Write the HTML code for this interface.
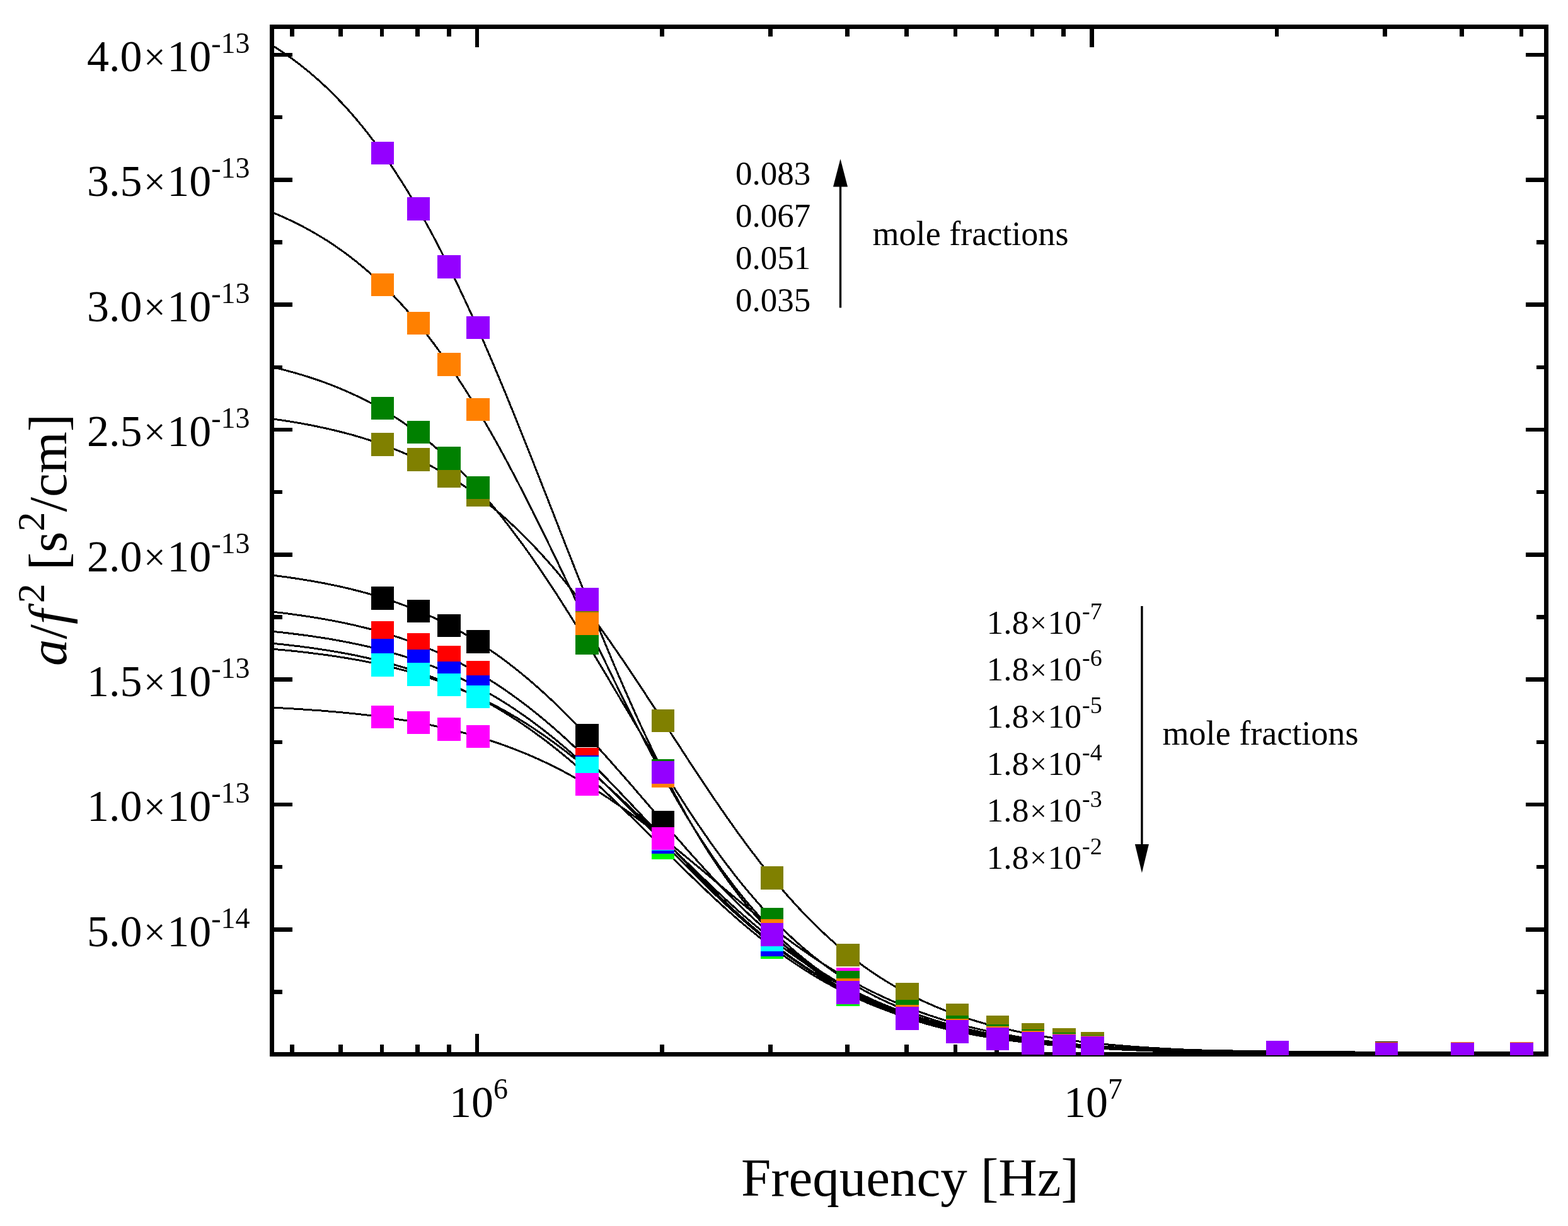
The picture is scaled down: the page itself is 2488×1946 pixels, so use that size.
<!DOCTYPE html><html><head><meta charset="utf-8"><style>html,body{margin:0;padding:0;background:#fff;overflow:hidden;}svg{display:block;}.t{font-family:"Liberation Serif","Times New Roman",serif;}</style></head><body><svg width="2488" height="1946" viewBox="0 0 2488 1946">
<defs><clipPath id="pc"><rect x="435" y="46" width="2015" height="1624"/></clipPath><clipPath id="mc"><rect x="431" y="42" width="2023" height="1633"/></clipPath></defs>
<rect x="0" y="0" width="2488" height="1946" fill="#fff"/>
<g clip-path="url(#pc)" fill="none" stroke="#000" stroke-width="3" stroke-linejoin="round" shape-rendering="crispEdges">
<polyline points="431.5,913.0 434.4,913.4 437.3,913.7 440.2,914.1 443.1,914.5 446.0,914.9 448.9,915.2 451.7,915.6 454.6,916.0 457.5,916.4 460.4,916.8 463.3,917.3 466.2,917.7 469.1,918.1 472.0,918.6 474.9,919.0 477.8,919.5 480.7,919.9 483.6,920.4 486.5,920.9 489.4,921.3 492.2,921.8 495.1,922.3 498.0,922.8 500.9,923.3 503.8,923.9 506.7,924.4 509.6,924.9 512.5,925.5 515.4,926.0 518.3,926.6 521.2,927.2 524.1,927.8 527.0,928.4 529.9,929.0 532.7,929.6 535.6,930.2 538.5,930.8 541.4,931.5 544.3,932.1 547.2,932.8 550.1,933.5 553.0,934.1 555.9,934.8 558.8,935.5 561.7,936.3 564.6,937.0 567.5,937.7 570.3,938.5 573.2,939.2 576.1,940.0 579.0,940.8 581.9,941.6 584.8,942.4 587.7,943.2 590.6,944.0 593.5,944.9 596.4,945.7 599.3,946.6 602.2,947.5 605.1,948.4 608.0,949.3 610.8,950.2 613.7,951.2 616.6,952.1 619.5,953.1 622.4,954.0 625.3,955.0 628.2,956.0 631.1,957.1 634.0,958.1 636.9,959.2 639.8,960.2 642.7,961.3 645.6,962.4 648.5,963.5 651.3,964.6 654.2,965.8 657.1,967.0 660.0,968.1 662.9,969.3 665.8,970.5 668.7,971.8 671.6,973.0 674.5,974.3 677.4,975.6 680.3,976.8 683.2,978.2 686.1,979.5 689.0,980.8 691.8,982.2 694.7,983.6 697.6,985.0 700.5,986.4 703.4,987.9 706.3,989.3 709.2,990.8 712.1,992.3 715.0,993.8 717.9,995.4 720.8,996.9 723.7,998.5 726.6,1000.1 729.4,1001.7 732.3,1003.4 735.2,1005.0 738.1,1006.7 741.0,1008.4 743.9,1010.1 746.8,1011.9 749.7,1013.6 752.6,1015.4 755.5,1017.2 758.4,1019.0 761.3,1020.9 764.2,1022.7 767.1,1024.6 769.9,1026.5 772.8,1028.5 775.7,1030.4 778.6,1032.4 781.5,1034.4 784.4,1036.4 787.3,1038.5 790.2,1040.5 793.1,1042.6 796.0,1044.7 798.9,1046.9 801.8,1049.0 804.7,1051.2 807.6,1053.4 810.4,1055.6 813.3,1057.9 816.2,1060.1 819.1,1062.4 822.0,1064.7 824.9,1067.1 827.8,1069.4 830.7,1071.8 833.6,1074.2 836.5,1076.6 839.4,1079.1 842.3,1081.5 845.2,1084.0 848.0,1086.5 850.9,1089.1 853.8,1091.6 856.7,1094.2 859.6,1096.8 862.5,1099.4 865.4,1102.1 868.3,1104.7 871.2,1107.4 874.1,1110.1 877.0,1112.8 879.9,1115.6 882.8,1118.3 885.7,1121.1 888.5,1123.9 891.4,1126.8 894.3,1129.6 897.2,1132.5 900.1,1135.3 903.0,1138.2 905.9,1141.2 908.8,1144.1 911.7,1147.1 914.6,1150.0 917.5,1153.0 920.4,1156.0 923.3,1159.1 926.2,1162.1 929.0,1165.2 931.9,1168.2 934.8,1171.3 937.7,1174.4 940.6,1177.5 943.5,1180.7 946.4,1183.8 949.3,1187.0 952.2,1190.2 955.1,1193.3 958.0,1196.5 960.9,1199.8 963.8,1203.0 966.7,1206.2 969.5,1209.5 972.4,1212.7 975.3,1216.0 978.2,1219.3 981.1,1222.5 984.0,1225.8 986.9,1229.1 989.8,1232.4 992.7,1235.8 995.6,1239.1 998.5,1242.4 1001.4,1245.8 1004.3,1249.1 1007.1,1252.4 1010.0,1255.8 1012.9,1259.1 1015.8,1262.5 1018.7,1265.9 1021.6,1269.2 1024.5,1272.6 1027.4,1276.0 1030.3,1279.3 1033.2,1282.7 1036.1,1286.1 1039.0,1289.4 1041.9,1292.8 1044.8,1296.2 1047.6,1299.5 1050.5,1302.9 1053.4,1306.2 1056.3,1309.6 1059.2,1312.9 1062.1,1316.3 1065.0,1319.6 1067.9,1323.0 1070.8,1326.3 1073.7,1329.6 1076.6,1332.9 1079.5,1336.2 1082.4,1339.5 1085.3,1342.8 1088.1,1346.1 1091.0,1349.4 1093.9,1352.6 1096.8,1355.9 1099.7,1359.1 1102.6,1362.3 1105.5,1365.6 1108.4,1368.8 1111.3,1372.0 1114.2,1375.1 1117.1,1378.3 1120.0,1381.5 1122.9,1384.6 1125.7,1387.7 1128.6,1390.8 1131.5,1393.9 1134.4,1397.0 1137.3,1400.1 1140.2,1403.1 1143.1,1406.2 1146.0,1409.2 1148.9,1412.2 1151.8,1415.2 1154.7,1418.1 1157.6,1421.1 1160.5,1424.0 1163.4,1426.9 1166.2,1429.8 1169.1,1432.7 1172.0,1435.5 1174.9,1438.4 1177.8,1441.2 1180.7,1444.0 1183.6,1446.8 1186.5,1449.5 1189.4,1452.3 1192.3,1455.0 1195.2,1457.7 1198.1,1460.3 1201.0,1463.0 1203.9,1465.6 1206.7,1468.2 1209.6,1470.8 1212.5,1473.4 1215.4,1475.9 1218.3,1478.4 1221.2,1480.9 1224.1,1483.4 1227.0,1485.9 1229.9,1488.3 1232.8,1490.7 1235.7,1493.1 1238.6,1495.5 1241.5,1497.8 1244.3,1500.2 1247.2,1502.5 1250.1,1504.7 1253.0,1507.0 1255.9,1509.2 1258.8,1511.4 1261.7,1513.6 1264.6,1515.8 1267.5,1517.9 1270.4,1520.1 1273.3,1522.2 1276.2,1524.2 1279.1,1526.3 1282.0,1528.3 1284.8,1530.3 1287.7,1532.3 1290.6,1534.3 1293.5,1536.2 1296.4,1538.2 1299.3,1540.1 1302.2,1541.9 1305.1,1543.8 1308.0,1545.6 1310.9,1547.4 1313.8,1549.2 1316.7,1551.0 1319.6,1552.8 1322.5,1554.5 1325.3,1556.2 1328.2,1557.9 1331.1,1559.6 1334.0,1561.2 1336.9,1562.8 1339.8,1564.5 1342.7,1566.0 1345.6,1567.6 1348.5,1569.2 1351.4,1570.7 1354.3,1572.2 1357.2,1573.7 1360.1,1575.2 1363.0,1576.6 1365.8,1578.0 1368.7,1579.5 1371.6,1580.9 1374.5,1582.2 1377.4,1583.6 1380.3,1584.9 1383.2,1586.3 1386.1,1587.6 1389.0,1588.9 1391.9,1590.1 1394.8,1591.4 1397.7,1592.6 1400.6,1593.8 1403.4,1595.0 1406.3,1596.2 1409.2,1597.4 1412.1,1598.5 1415.0,1599.7 1417.9,1600.8 1420.8,1601.9 1423.7,1603.0 1426.6,1604.1 1429.5,1605.1 1432.4,1606.2 1435.3,1607.2 1438.2,1608.2 1441.1,1609.2 1443.9,1610.2 1446.8,1611.2 1449.7,1612.1 1452.6,1613.1 1455.5,1614.0 1458.4,1614.9 1461.3,1615.8 1464.2,1616.7 1467.1,1617.6 1470.0,1618.5 1472.9,1619.3 1475.8,1620.2 1478.7,1621.0 1481.6,1621.8 1484.4,1622.6 1487.3,1623.4 1490.2,1624.2 1493.1,1624.9 1496.0,1625.7 1498.9,1626.4 1501.8,1627.2 1504.7,1627.9 1507.6,1628.6 1510.5,1629.3 1513.4,1630.0 1516.3,1630.7 1519.2,1631.3 1522.0,1632.0 1524.9,1632.6 1527.8,1633.3 1530.7,1633.9 1533.6,1634.5 1536.5,1635.1 1539.4,1635.7 1542.3,1636.3 1545.2,1636.9 1548.1,1637.4 1551.0,1638.0 1553.9,1638.6 1556.8,1639.1 1559.7,1639.6 1562.5,1640.2 1565.4,1640.7 1568.3,1641.2 1571.2,1641.7 1574.1,1642.2 1577.0,1642.7 1579.9,1643.2 1582.8,1643.6 1585.7,1644.1 1588.6,1644.6 1591.5,1645.0 1594.4,1645.5 1597.3,1645.9 1600.2,1646.3 1603.0,1646.7 1605.9,1647.1 1608.8,1647.6 1611.7,1648.0 1614.6,1648.4 1617.5,1648.7 1620.4,1649.1 1623.3,1649.5 1626.2,1649.9 1629.1,1650.2 1632.0,1650.6 1634.9,1650.9 1637.8,1651.3 1640.7,1651.6 1643.5,1652.0 1646.4,1652.3 1649.3,1652.6 1652.2,1652.9 1655.1,1653.3 1658.0,1653.6 1660.9,1653.9 1663.8,1654.2 1666.7,1654.5 1669.6,1654.8 1672.5,1655.0 1675.4,1655.3 1678.3,1655.6 1681.1,1655.9 1684.0,1656.1 1686.9,1656.4 1689.8,1656.6 1692.7,1656.9 1695.6,1657.2 1698.5,1657.4 1701.4,1657.6 1704.3,1657.9 1707.2,1658.1 1710.1,1658.3 1713.0,1658.6 1715.9,1658.8 1718.8,1659.0 1721.6,1659.2 1724.5,1659.4 1727.4,1659.6 1730.3,1659.8 1733.2,1660.0 1736.1,1660.2 1739.0,1660.4 1741.9,1660.6 1744.8,1660.8 1747.7,1661.0 1750.6,1661.2 1753.5,1661.4 1756.4,1661.5 1759.3,1661.7 1762.1,1661.9 1765.0,1662.0 1767.9,1662.2 1770.8,1662.4 1773.7,1662.5 1776.6,1662.7 1779.5,1662.8 1782.4,1663.0 1785.3,1663.1 1788.2,1663.3 1791.1,1663.4 1794.0,1663.6 1796.9,1663.7 1799.7,1663.8 1802.6,1664.0 1805.5,1664.1 1808.4,1664.2 1811.3,1664.4 1814.2,1664.5 1817.1,1664.6 1820.0,1664.7 1822.9,1664.8 1825.8,1665.0 1828.7,1665.1 1831.6,1665.2 1834.5,1665.3 1837.4,1665.4 1840.2,1665.5 1843.1,1665.6 1846.0,1665.7 1848.9,1665.8 1851.8,1665.9 1854.7,1666.0 1857.6,1666.1 1860.5,1666.2 1863.4,1666.3 1866.3,1666.4 1869.2,1666.5 1872.1,1666.6 1875.0,1666.7 1877.9,1666.8 1880.7,1666.8 1883.6,1666.9 1886.5,1667.0 1889.4,1667.1 1892.3,1667.2 1895.2,1667.2 1898.1,1667.3 1901.0,1667.4 1903.9,1667.5 1906.8,1667.5 1909.7,1667.6 1912.6,1667.7 1915.5,1667.8 1918.3,1667.8 1921.2,1667.9 1924.1,1668.0 1927.0,1668.0 1929.9,1668.1 1932.8,1668.1 1935.7,1668.2 1938.6,1668.3 1941.5,1668.3 1944.4,1668.4 1947.3,1668.4 1950.2,1668.5 1953.1,1668.6 1956.0,1668.6 1958.8,1668.7 1961.7,1668.7 1964.6,1668.8 1967.5,1668.8 1970.4,1668.9 1973.3,1668.9 1976.2,1669.0 1979.1,1669.0 1982.0,1669.1 1984.9,1669.1 1987.8,1669.1 1990.7,1669.2 1993.6,1669.2 1996.5,1669.3 1999.3,1669.3 2002.2,1669.4 2005.1,1669.4 2008.0,1669.4 2010.9,1669.5 2013.8,1669.5 2016.7,1669.6 2019.6,1669.6 2022.5,1669.6 2025.4,1669.7 2028.3,1669.7 2031.2,1669.7 2034.1,1669.8 2037.0,1669.8 2039.8,1669.8 2042.7,1669.9 2045.6,1669.9 2048.5,1669.9 2051.4,1670.0 2054.3,1670.0 2057.2,1670.0 2060.1,1670.0 2063.0,1670.1 2065.9,1670.1 2068.8,1670.1 2071.7,1670.2 2074.6,1670.2 2077.4,1670.2 2080.3,1670.2 2083.2,1670.3 2086.1,1670.3 2089.0,1670.3 2091.9,1670.3 2094.8,1670.4 2097.7,1670.4 2100.6,1670.4 2103.5,1670.4 2106.4,1670.5 2109.3,1670.5 2112.2,1670.5 2115.1,1670.5 2117.9,1670.5 2120.8,1670.6 2123.7,1670.6 2126.6,1670.6 2129.5,1670.6 2132.4,1670.6 2135.3,1670.7 2138.2,1670.7 2141.1,1670.7 2144.0,1670.7 2146.9,1670.7 2149.8,1670.7 2152.7,1670.8 2155.6,1670.8 2158.4,1670.8 2161.3,1670.8 2164.2,1670.8 2167.1,1670.8 2170.0,1670.9 2172.9,1670.9 2175.8,1670.9 2178.7,1670.9 2181.6,1670.9 2184.5,1670.9 2187.4,1670.9 2190.3,1671.0 2193.2,1671.0 2196.0,1671.0 2198.9,1671.0 2201.8,1671.0 2204.7,1671.0 2207.6,1671.0 2210.5,1671.0 2213.4,1671.1 2216.3,1671.1 2219.2,1671.1 2222.1,1671.1 2225.0,1671.1 2227.9,1671.1 2230.8,1671.1 2233.7,1671.1 2236.5,1671.1 2239.4,1671.2 2242.3,1671.2 2245.2,1671.2 2248.1,1671.2 2251.0,1671.2 2253.9,1671.2 2256.8,1671.2 2259.7,1671.2 2262.6,1671.2 2265.5,1671.2 2268.4,1671.2 2271.3,1671.3 2274.2,1671.3 2277.0,1671.3 2279.9,1671.3 2282.8,1671.3 2285.7,1671.3 2288.6,1671.3 2291.5,1671.3 2294.4,1671.3 2297.3,1671.3 2300.2,1671.3 2303.1,1671.3 2306.0,1671.3 2308.9,1671.3 2311.8,1671.4 2314.7,1671.4 2317.5,1671.4 2320.4,1671.4 2323.3,1671.4 2326.2,1671.4 2329.1,1671.4 2332.0,1671.4 2334.9,1671.4 2337.8,1671.4 2340.7,1671.4 2343.6,1671.4 2346.5,1671.4 2349.4,1671.4 2352.3,1671.4 2355.1,1671.4 2358.0,1671.4 2360.9,1671.5 2363.8,1671.5 2366.7,1671.5 2369.6,1671.5 2372.5,1671.5 2375.4,1671.5 2378.3,1671.5 2381.2,1671.5 2384.1,1671.5 2387.0,1671.5 2389.9,1671.5 2392.8,1671.5 2395.6,1671.5 2398.5,1671.5 2401.4,1671.5 2404.3,1671.5 2407.2,1671.5 2410.1,1671.5 2413.0,1671.5 2415.9,1671.5 2418.8,1671.5 2421.7,1671.5 2424.6,1671.5 2427.5,1671.5 2430.4,1671.5 2433.3,1671.5 2436.1,1671.6 2439.0,1671.6 2441.9,1671.6 2444.8,1671.6 2447.7,1671.6 2450.6,1671.6 2453.5,1671.6"/>
<polyline points="431.5,971.0 434.4,971.3 437.3,971.7 440.2,972.0 443.1,972.3 446.0,972.7 448.9,973.0 451.7,973.4 454.6,973.8 457.5,974.1 460.4,974.5 463.3,974.9 466.2,975.3 469.1,975.7 472.0,976.1 474.9,976.5 477.8,976.9 480.7,977.3 483.6,977.7 486.5,978.2 489.4,978.6 492.2,979.1 495.1,979.5 498.0,980.0 500.9,980.5 503.8,980.9 506.7,981.4 509.6,981.9 512.5,982.4 515.4,982.9 518.3,983.4 521.2,984.0 524.1,984.5 527.0,985.0 529.9,985.6 532.7,986.1 535.6,986.7 538.5,987.3 541.4,987.9 544.3,988.5 547.2,989.1 550.1,989.7 553.0,990.3 555.9,991.0 558.8,991.6 561.7,992.2 564.6,992.9 567.5,993.6 570.3,994.3 573.2,995.0 576.1,995.7 579.0,996.4 581.9,997.1 584.8,997.8 587.7,998.6 590.6,999.4 593.5,1000.1 596.4,1000.9 599.3,1001.7 602.2,1002.5 605.1,1003.3 608.0,1004.2 610.8,1005.0 613.7,1005.9 616.6,1006.7 619.5,1007.6 622.4,1008.5 625.3,1009.4 628.2,1010.3 631.1,1011.3 634.0,1012.2 636.9,1013.2 639.8,1014.2 642.7,1015.2 645.6,1016.2 648.5,1017.2 651.3,1018.2 654.2,1019.3 657.1,1020.3 660.0,1021.4 662.9,1022.5 665.8,1023.6 668.7,1024.7 671.6,1025.9 674.5,1027.0 677.4,1028.2 680.3,1029.4 683.2,1030.6 686.1,1031.8 689.0,1033.0 691.8,1034.3 694.7,1035.6 697.6,1036.8 700.5,1038.1 703.4,1039.5 706.3,1040.8 709.2,1042.2 712.1,1043.5 715.0,1044.9 717.9,1046.3 720.8,1047.8 723.7,1049.2 726.6,1050.7 729.4,1052.1 732.3,1053.6 735.2,1055.2 738.1,1056.7 741.0,1058.3 743.9,1059.8 746.8,1061.4 749.7,1063.0 752.6,1064.7 755.5,1066.3 758.4,1068.0 761.3,1069.7 764.2,1071.4 767.1,1073.1 769.9,1074.9 772.8,1076.7 775.7,1078.5 778.6,1080.3 781.5,1082.1 784.4,1083.9 787.3,1085.8 790.2,1087.7 793.1,1089.6 796.0,1091.6 798.9,1093.5 801.8,1095.5 804.7,1097.5 807.6,1099.5 810.4,1101.5 813.3,1103.6 816.2,1105.7 819.1,1107.8 822.0,1109.9 824.9,1112.0 827.8,1114.2 830.7,1116.4 833.6,1118.6 836.5,1120.8 839.4,1123.0 842.3,1125.3 845.2,1127.6 848.0,1129.9 850.9,1132.2 853.8,1134.6 856.7,1136.9 859.6,1139.3 862.5,1141.7 865.4,1144.1 868.3,1146.6 871.2,1149.1 874.1,1151.5 877.0,1154.0 879.9,1156.6 882.8,1159.1 885.7,1161.7 888.5,1164.2 891.4,1166.8 894.3,1169.4 897.2,1172.1 900.1,1174.7 903.0,1177.4 905.9,1180.1 908.8,1182.8 911.7,1185.5 914.6,1188.2 917.5,1191.0 920.4,1193.7 923.3,1196.5 926.2,1199.3 929.0,1202.1 931.9,1204.9 934.8,1207.8 937.7,1210.6 940.6,1213.5 943.5,1216.4 946.4,1219.3 949.3,1222.2 952.2,1225.1 955.1,1228.0 958.0,1231.0 960.9,1233.9 963.8,1236.9 966.7,1239.9 969.5,1242.9 972.4,1245.9 975.3,1248.9 978.2,1251.9 981.1,1254.9 984.0,1257.9 986.9,1261.0 989.8,1264.0 992.7,1267.1 995.6,1270.2 998.5,1273.2 1001.4,1276.3 1004.3,1279.4 1007.1,1282.5 1010.0,1285.5 1012.9,1288.6 1015.8,1291.7 1018.7,1294.8 1021.6,1297.9 1024.5,1301.0 1027.4,1304.1 1030.3,1307.2 1033.2,1310.3 1036.1,1313.4 1039.0,1316.6 1041.9,1319.7 1044.8,1322.8 1047.6,1325.9 1050.5,1329.0 1053.4,1332.1 1056.3,1335.2 1059.2,1338.2 1062.1,1341.3 1065.0,1344.4 1067.9,1347.5 1070.8,1350.6 1073.7,1353.6 1076.6,1356.7 1079.5,1359.7 1082.4,1362.8 1085.3,1365.8 1088.1,1368.9 1091.0,1371.9 1093.9,1374.9 1096.8,1377.9 1099.7,1380.9 1102.6,1383.9 1105.5,1386.8 1108.4,1389.8 1111.3,1392.8 1114.2,1395.7 1117.1,1398.6 1120.0,1401.5 1122.9,1404.4 1125.7,1407.3 1128.6,1410.2 1131.5,1413.1 1134.4,1415.9 1137.3,1418.8 1140.2,1421.6 1143.1,1424.4 1146.0,1427.2 1148.9,1430.0 1151.8,1432.7 1154.7,1435.5 1157.6,1438.2 1160.5,1440.9 1163.4,1443.6 1166.2,1446.3 1169.1,1448.9 1172.0,1451.6 1174.9,1454.2 1177.8,1456.8 1180.7,1459.4 1183.6,1462.0 1186.5,1464.5 1189.4,1467.0 1192.3,1469.6 1195.2,1472.1 1198.1,1474.5 1201.0,1477.0 1203.9,1479.4 1206.7,1481.8 1209.6,1484.2 1212.5,1486.6 1215.4,1489.0 1218.3,1491.3 1221.2,1493.6 1224.1,1495.9 1227.0,1498.2 1229.9,1500.5 1232.8,1502.7 1235.7,1504.9 1238.6,1507.1 1241.5,1509.3 1244.3,1511.4 1247.2,1513.6 1250.1,1515.7 1253.0,1517.8 1255.9,1519.8 1258.8,1521.9 1261.7,1523.9 1264.6,1525.9 1267.5,1527.9 1270.4,1529.9 1273.3,1531.8 1276.2,1533.8 1279.1,1535.7 1282.0,1537.6 1284.8,1539.4 1287.7,1541.3 1290.6,1543.1 1293.5,1544.9 1296.4,1546.7 1299.3,1548.5 1302.2,1550.2 1305.1,1551.9 1308.0,1553.6 1310.9,1555.3 1313.8,1557.0 1316.7,1558.6 1319.6,1560.3 1322.5,1561.9 1325.3,1563.4 1328.2,1565.0 1331.1,1566.6 1334.0,1568.1 1336.9,1569.6 1339.8,1571.1 1342.7,1572.6 1345.6,1574.0 1348.5,1575.5 1351.4,1576.9 1354.3,1578.3 1357.2,1579.7 1360.1,1581.0 1363.0,1582.4 1365.8,1583.7 1368.7,1585.0 1371.6,1586.3 1374.5,1587.6 1377.4,1588.9 1380.3,1590.1 1383.2,1591.4 1386.1,1592.6 1389.0,1593.8 1391.9,1595.0 1394.8,1596.1 1397.7,1597.3 1400.6,1598.4 1403.4,1599.5 1406.3,1600.6 1409.2,1601.7 1412.1,1602.8 1415.0,1603.8 1417.9,1604.9 1420.8,1605.9 1423.7,1606.9 1426.6,1607.9 1429.5,1608.9 1432.4,1609.9 1435.3,1610.8 1438.2,1611.8 1441.1,1612.7 1443.9,1613.6 1446.8,1614.5 1449.7,1615.4 1452.6,1616.3 1455.5,1617.2 1458.4,1618.0 1461.3,1618.9 1464.2,1619.7 1467.1,1620.5 1470.0,1621.3 1472.9,1622.1 1475.8,1622.9 1478.7,1623.6 1481.6,1624.4 1484.4,1625.1 1487.3,1625.9 1490.2,1626.6 1493.1,1627.3 1496.0,1628.0 1498.9,1628.7 1501.8,1629.4 1504.7,1630.1 1507.6,1630.7 1510.5,1631.4 1513.4,1632.0 1516.3,1632.6 1519.2,1633.3 1522.0,1633.9 1524.9,1634.5 1527.8,1635.1 1530.7,1635.6 1533.6,1636.2 1536.5,1636.8 1539.4,1637.3 1542.3,1637.9 1545.2,1638.4 1548.1,1639.0 1551.0,1639.5 1553.9,1640.0 1556.8,1640.5 1559.7,1641.0 1562.5,1641.5 1565.4,1642.0 1568.3,1642.5 1571.2,1642.9 1574.1,1643.4 1577.0,1643.8 1579.9,1644.3 1582.8,1644.7 1585.7,1645.2 1588.6,1645.6 1591.5,1646.0 1594.4,1646.4 1597.3,1646.8 1600.2,1647.2 1603.0,1647.6 1605.9,1648.0 1608.8,1648.4 1611.7,1648.7 1614.6,1649.1 1617.5,1649.5 1620.4,1649.8 1623.3,1650.2 1626.2,1650.5 1629.1,1650.9 1632.0,1651.2 1634.9,1651.5 1637.8,1651.8 1640.7,1652.2 1643.5,1652.5 1646.4,1652.8 1649.3,1653.1 1652.2,1653.4 1655.1,1653.7 1658.0,1654.0 1660.9,1654.2 1663.8,1654.5 1666.7,1654.8 1669.6,1655.1 1672.5,1655.3 1675.4,1655.6 1678.3,1655.8 1681.1,1656.1 1684.0,1656.3 1686.9,1656.6 1689.8,1656.8 1692.7,1657.1 1695.6,1657.3 1698.5,1657.5 1701.4,1657.8 1704.3,1658.0 1707.2,1658.2 1710.1,1658.4 1713.0,1658.6 1715.9,1658.8 1718.8,1659.0 1721.6,1659.2 1724.5,1659.4 1727.4,1659.6 1730.3,1659.8 1733.2,1660.0 1736.1,1660.2 1739.0,1660.4 1741.9,1660.5 1744.8,1660.7 1747.7,1660.9 1750.6,1661.0 1753.5,1661.2 1756.4,1661.4 1759.3,1661.5 1762.1,1661.7 1765.0,1661.9 1767.9,1662.0 1770.8,1662.2 1773.7,1662.3 1776.6,1662.4 1779.5,1662.6 1782.4,1662.7 1785.3,1662.9 1788.2,1663.0 1791.1,1663.1 1794.0,1663.3 1796.9,1663.4 1799.7,1663.5 1802.6,1663.6 1805.5,1663.8 1808.4,1663.9 1811.3,1664.0 1814.2,1664.1 1817.1,1664.2 1820.0,1664.4 1822.9,1664.5 1825.8,1664.6 1828.7,1664.7 1831.6,1664.8 1834.5,1664.9 1837.4,1665.0 1840.2,1665.1 1843.1,1665.2 1846.0,1665.3 1848.9,1665.4 1851.8,1665.5 1854.7,1665.6 1857.6,1665.7 1860.5,1665.7 1863.4,1665.8 1866.3,1665.9 1869.2,1666.0 1872.1,1666.1 1875.0,1666.2 1877.9,1666.2 1880.7,1666.3 1883.6,1666.4 1886.5,1666.5 1889.4,1666.6 1892.3,1666.6 1895.2,1666.7 1898.1,1666.8 1901.0,1666.8 1903.9,1666.9 1906.8,1667.0 1909.7,1667.0 1912.6,1667.1 1915.5,1667.2 1918.3,1667.2 1921.2,1667.3 1924.1,1667.4 1927.0,1667.4 1929.9,1667.5 1932.8,1667.5 1935.7,1667.6 1938.6,1667.6 1941.5,1667.7 1944.4,1667.8 1947.3,1667.8 1950.2,1667.9 1953.1,1667.9 1956.0,1668.0 1958.8,1668.0 1961.7,1668.1 1964.6,1668.1 1967.5,1668.2 1970.4,1668.2 1973.3,1668.3 1976.2,1668.3 1979.1,1668.3 1982.0,1668.4 1984.9,1668.4 1987.8,1668.5 1990.7,1668.5 1993.6,1668.5 1996.5,1668.6 1999.3,1668.6 2002.2,1668.7 2005.1,1668.7 2008.0,1668.7 2010.9,1668.8 2013.8,1668.8 2016.7,1668.8 2019.6,1668.9 2022.5,1668.9 2025.4,1669.0 2028.3,1669.0 2031.2,1669.0 2034.1,1669.0 2037.0,1669.1 2039.8,1669.1 2042.7,1669.1 2045.6,1669.2 2048.5,1669.2 2051.4,1669.2 2054.3,1669.3 2057.2,1669.3 2060.1,1669.3 2063.0,1669.3 2065.9,1669.4 2068.8,1669.4 2071.7,1669.4 2074.6,1669.4 2077.4,1669.5 2080.3,1669.5 2083.2,1669.5 2086.1,1669.5 2089.0,1669.6 2091.9,1669.6 2094.8,1669.6 2097.7,1669.6 2100.6,1669.6 2103.5,1669.7 2106.4,1669.7 2109.3,1669.7 2112.2,1669.7 2115.1,1669.7 2117.9,1669.8 2120.8,1669.8 2123.7,1669.8 2126.6,1669.8 2129.5,1669.8 2132.4,1669.9 2135.3,1669.9 2138.2,1669.9 2141.1,1669.9 2144.0,1669.9 2146.9,1669.9 2149.8,1670.0 2152.7,1670.0 2155.6,1670.0 2158.4,1670.0 2161.3,1670.0 2164.2,1670.0 2167.1,1670.0 2170.0,1670.1 2172.9,1670.1 2175.8,1670.1 2178.7,1670.1 2181.6,1670.1 2184.5,1670.1 2187.4,1670.1 2190.3,1670.2 2193.2,1670.2 2196.0,1670.2 2198.9,1670.2 2201.8,1670.2 2204.7,1670.2 2207.6,1670.2 2210.5,1670.2 2213.4,1670.2 2216.3,1670.3 2219.2,1670.3 2222.1,1670.3 2225.0,1670.3 2227.9,1670.3 2230.8,1670.3 2233.7,1670.3 2236.5,1670.3 2239.4,1670.3 2242.3,1670.3 2245.2,1670.4 2248.1,1670.4 2251.0,1670.4 2253.9,1670.4 2256.8,1670.4 2259.7,1670.4 2262.6,1670.4 2265.5,1670.4 2268.4,1670.4 2271.3,1670.4 2274.2,1670.4 2277.0,1670.4 2279.9,1670.5 2282.8,1670.5 2285.7,1670.5 2288.6,1670.5 2291.5,1670.5 2294.4,1670.5 2297.3,1670.5 2300.2,1670.5 2303.1,1670.5 2306.0,1670.5 2308.9,1670.5 2311.8,1670.5 2314.7,1670.5 2317.5,1670.5 2320.4,1670.5 2323.3,1670.6 2326.2,1670.6 2329.1,1670.6 2332.0,1670.6 2334.9,1670.6 2337.8,1670.6 2340.7,1670.6 2343.6,1670.6 2346.5,1670.6 2349.4,1670.6 2352.3,1670.6 2355.1,1670.6 2358.0,1670.6 2360.9,1670.6 2363.8,1670.6 2366.7,1670.6 2369.6,1670.6 2372.5,1670.6 2375.4,1670.6 2378.3,1670.6 2381.2,1670.6 2384.1,1670.6 2387.0,1670.7 2389.9,1670.7 2392.8,1670.7 2395.6,1670.7 2398.5,1670.7 2401.4,1670.7 2404.3,1670.7 2407.2,1670.7 2410.1,1670.7 2413.0,1670.7 2415.9,1670.7 2418.8,1670.7 2421.7,1670.7 2424.6,1670.7 2427.5,1670.7 2430.4,1670.7 2433.3,1670.7 2436.1,1670.7 2439.0,1670.7 2441.9,1670.7 2444.8,1670.7 2447.7,1670.7 2450.6,1670.7 2453.5,1670.7"/>
<polyline points="431.5,1021.1 434.4,1021.4 437.3,1021.7 440.2,1022.0 443.1,1022.3 446.0,1022.6 448.9,1022.9 451.7,1023.2 454.6,1023.6 457.5,1023.9 460.4,1024.2 463.3,1024.5 466.2,1024.9 469.1,1025.2 472.0,1025.6 474.9,1025.9 477.8,1026.3 480.7,1026.7 483.6,1027.1 486.5,1027.4 489.4,1027.8 492.2,1028.2 495.1,1028.6 498.0,1029.0 500.9,1029.4 503.8,1029.9 506.7,1030.3 509.6,1030.7 512.5,1031.2 515.4,1031.6 518.3,1032.1 521.2,1032.5 524.1,1033.0 527.0,1033.5 529.9,1034.0 532.7,1034.5 535.6,1035.0 538.5,1035.5 541.4,1036.0 544.3,1036.5 547.2,1037.1 550.1,1037.6 553.0,1038.1 555.9,1038.7 558.8,1039.3 561.7,1039.8 564.6,1040.4 567.5,1041.0 570.3,1041.6 573.2,1042.2 576.1,1042.9 579.0,1043.5 581.9,1044.1 584.8,1044.8 587.7,1045.5 590.6,1046.1 593.5,1046.8 596.4,1047.5 599.3,1048.2 602.2,1048.9 605.1,1049.6 608.0,1050.4 610.8,1051.1 613.7,1051.9 616.6,1052.7 619.5,1053.4 622.4,1054.2 625.3,1055.0 628.2,1055.8 631.1,1056.7 634.0,1057.5 636.9,1058.4 639.8,1059.2 642.7,1060.1 645.6,1061.0 648.5,1061.9 651.3,1062.8 654.2,1063.7 657.1,1064.7 660.0,1065.6 662.9,1066.6 665.8,1067.6 668.7,1068.6 671.6,1069.6 674.5,1070.6 677.4,1071.7 680.3,1072.7 683.2,1073.8 686.1,1074.9 689.0,1076.0 691.8,1077.1 694.7,1078.2 697.6,1079.3 700.5,1080.5 703.4,1081.7 706.3,1082.9 709.2,1084.1 712.1,1085.3 715.0,1086.5 717.9,1087.8 720.8,1089.0 723.7,1090.3 726.6,1091.6 729.4,1093.0 732.3,1094.3 735.2,1095.6 738.1,1097.0 741.0,1098.4 743.9,1099.8 746.8,1101.2 749.7,1102.7 752.6,1104.1 755.5,1105.6 758.4,1107.1 761.3,1108.6 764.2,1110.1 767.1,1111.7 769.9,1113.3 772.8,1114.8 775.7,1116.4 778.6,1118.1 781.5,1119.7 784.4,1121.4 787.3,1123.0 790.2,1124.7 793.1,1126.4 796.0,1128.2 798.9,1129.9 801.8,1131.7 804.7,1133.5 807.6,1135.3 810.4,1137.1 813.3,1139.0 816.2,1140.8 819.1,1142.7 822.0,1144.6 824.9,1146.6 827.8,1148.5 830.7,1150.5 833.6,1152.5 836.5,1154.5 839.4,1156.5 842.3,1158.5 845.2,1160.6 848.0,1162.7 850.9,1164.7 853.8,1166.9 856.7,1169.0 859.6,1171.1 862.5,1173.3 865.4,1175.5 868.3,1177.7 871.2,1179.9 874.1,1182.2 877.0,1184.5 879.9,1186.7 882.8,1189.0 885.7,1191.4 888.5,1193.7 891.4,1196.0 894.3,1198.4 897.2,1200.8 900.1,1203.2 903.0,1205.6 905.9,1208.1 908.8,1210.5 911.7,1213.0 914.6,1215.5 917.5,1218.0 920.4,1220.5 923.3,1223.0 926.2,1225.6 929.0,1228.2 931.9,1230.7 934.8,1233.3 937.7,1235.9 940.6,1238.6 943.5,1241.2 946.4,1243.8 949.3,1246.5 952.2,1249.2 955.1,1251.9 958.0,1254.6 960.9,1257.3 963.8,1260.0 966.7,1262.7 969.5,1265.5 972.4,1268.2 975.3,1271.0 978.2,1273.7 981.1,1276.5 984.0,1279.3 986.9,1282.1 989.8,1284.9 992.7,1287.7 995.6,1290.6 998.5,1293.4 1001.4,1296.2 1004.3,1299.1 1007.1,1301.9 1010.0,1304.8 1012.9,1307.6 1015.8,1310.5 1018.7,1313.4 1021.6,1316.2 1024.5,1319.1 1027.4,1322.0 1030.3,1324.9 1033.2,1327.8 1036.1,1330.6 1039.0,1333.5 1041.9,1336.4 1044.8,1339.3 1047.6,1342.2 1050.5,1345.1 1053.4,1347.9 1056.3,1350.8 1059.2,1353.7 1062.1,1356.6 1065.0,1359.5 1067.9,1362.3 1070.8,1365.2 1073.7,1368.1 1076.6,1370.9 1079.5,1373.8 1082.4,1376.6 1085.3,1379.5 1088.1,1382.3 1091.0,1385.2 1093.9,1388.0 1096.8,1390.8 1099.7,1393.6 1102.6,1396.4 1105.5,1399.2 1108.4,1402.0 1111.3,1404.8 1114.2,1407.5 1117.1,1410.3 1120.0,1413.0 1122.9,1415.8 1125.7,1418.5 1128.6,1421.2 1131.5,1423.9 1134.4,1426.6 1137.3,1429.3 1140.2,1432.0 1143.1,1434.6 1146.0,1437.2 1148.9,1439.9 1151.8,1442.5 1154.7,1445.1 1157.6,1447.7 1160.5,1450.2 1163.4,1452.8 1166.2,1455.3 1169.1,1457.9 1172.0,1460.4 1174.9,1462.9 1177.8,1465.3 1180.7,1467.8 1183.6,1470.2 1186.5,1472.7 1189.4,1475.1 1192.3,1477.5 1195.2,1479.8 1198.1,1482.2 1201.0,1484.5 1203.9,1486.9 1206.7,1489.2 1209.6,1491.5 1212.5,1493.7 1215.4,1496.0 1218.3,1498.2 1221.2,1500.4 1224.1,1502.6 1227.0,1504.8 1229.9,1507.0 1232.8,1509.1 1235.7,1511.2 1238.6,1513.3 1241.5,1515.4 1244.3,1517.5 1247.2,1519.5 1250.1,1521.6 1253.0,1523.6 1255.9,1525.6 1258.8,1527.5 1261.7,1529.5 1264.6,1531.4 1267.5,1533.3 1270.4,1535.2 1273.3,1537.1 1276.2,1539.0 1279.1,1540.8 1282.0,1542.6 1284.8,1544.4 1287.7,1546.2 1290.6,1547.9 1293.5,1549.7 1296.4,1551.4 1299.3,1553.1 1302.2,1554.8 1305.1,1556.5 1308.0,1558.1 1310.9,1559.7 1313.8,1561.3 1316.7,1562.9 1319.6,1564.5 1322.5,1566.1 1325.3,1567.6 1328.2,1569.1 1331.1,1570.6 1334.0,1572.1 1336.9,1573.6 1339.8,1575.0 1342.7,1576.4 1345.6,1577.8 1348.5,1579.2 1351.4,1580.6 1354.3,1582.0 1357.2,1583.3 1360.1,1584.6 1363.0,1586.0 1365.8,1587.3 1368.7,1588.5 1371.6,1589.8 1374.5,1591.0 1377.4,1592.3 1380.3,1593.5 1383.2,1594.7 1386.1,1595.8 1389.0,1597.0 1391.9,1598.2 1394.8,1599.3 1397.7,1600.4 1400.6,1601.5 1403.4,1602.6 1406.3,1603.7 1409.2,1604.7 1412.1,1605.8 1415.0,1606.8 1417.9,1607.8 1420.8,1608.8 1423.7,1609.8 1426.6,1610.8 1429.5,1611.7 1432.4,1612.7 1435.3,1613.6 1438.2,1614.5 1441.1,1615.4 1443.9,1616.3 1446.8,1617.2 1449.7,1618.1 1452.6,1619.0 1455.5,1619.8 1458.4,1620.6 1461.3,1621.4 1464.2,1622.3 1467.1,1623.1 1470.0,1623.8 1472.9,1624.6 1475.8,1625.4 1478.7,1626.1 1481.6,1626.9 1484.4,1627.6 1487.3,1628.3 1490.2,1629.0 1493.1,1629.7 1496.0,1630.4 1498.9,1631.1 1501.8,1631.7 1504.7,1632.4 1507.6,1633.0 1510.5,1633.7 1513.4,1634.3 1516.3,1634.9 1519.2,1635.5 1522.0,1636.1 1524.9,1636.7 1527.8,1637.3 1530.7,1637.9 1533.6,1638.4 1536.5,1639.0 1539.4,1639.5 1542.3,1640.1 1545.2,1640.6 1548.1,1641.1 1551.0,1641.6 1553.9,1642.1 1556.8,1642.6 1559.7,1643.1 1562.5,1643.6 1565.4,1644.1 1568.3,1644.5 1571.2,1645.0 1574.1,1645.4 1577.0,1645.9 1579.9,1646.3 1582.8,1646.7 1585.7,1647.2 1588.6,1647.6 1591.5,1648.0 1594.4,1648.4 1597.3,1648.8 1600.2,1649.2 1603.0,1649.6 1605.9,1650.0 1608.8,1650.3 1611.7,1650.7 1614.6,1651.1 1617.5,1651.4 1620.4,1651.8 1623.3,1652.1 1626.2,1652.4 1629.1,1652.8 1632.0,1653.1 1634.9,1653.4 1637.8,1653.7 1640.7,1654.0 1643.5,1654.4 1646.4,1654.7 1649.3,1655.0 1652.2,1655.2 1655.1,1655.5 1658.0,1655.8 1660.9,1656.1 1663.8,1656.4 1666.7,1656.6 1669.6,1656.9 1672.5,1657.2 1675.4,1657.4 1678.3,1657.7 1681.1,1657.9 1684.0,1658.2 1686.9,1658.4 1689.8,1658.6 1692.7,1658.9 1695.6,1659.1 1698.5,1659.3 1701.4,1659.5 1704.3,1659.8 1707.2,1660.0 1710.1,1660.2 1713.0,1660.4 1715.9,1660.6 1718.8,1660.8 1721.6,1661.0 1724.5,1661.2 1727.4,1661.4 1730.3,1661.6 1733.2,1661.7 1736.1,1661.9 1739.0,1662.1 1741.9,1662.3 1744.8,1662.4 1747.7,1662.6 1750.6,1662.8 1753.5,1662.9 1756.4,1663.1 1759.3,1663.3 1762.1,1663.4 1765.0,1663.6 1767.9,1663.7 1770.8,1663.9 1773.7,1664.0 1776.6,1664.2 1779.5,1664.3 1782.4,1664.4 1785.3,1664.6 1788.2,1664.7 1791.1,1664.8 1794.0,1665.0 1796.9,1665.1 1799.7,1665.2 1802.6,1665.3 1805.5,1665.5 1808.4,1665.6 1811.3,1665.7 1814.2,1665.8 1817.1,1665.9 1820.0,1666.0 1822.9,1666.1 1825.8,1666.2 1828.7,1666.3 1831.6,1666.5 1834.5,1666.6 1837.4,1666.7 1840.2,1666.8 1843.1,1666.8 1846.0,1666.9 1848.9,1667.0 1851.8,1667.1 1854.7,1667.2 1857.6,1667.3 1860.5,1667.4 1863.4,1667.5 1866.3,1667.6 1869.2,1667.6 1872.1,1667.7 1875.0,1667.8 1877.9,1667.9 1880.7,1668.0 1883.6,1668.0 1886.5,1668.1 1889.4,1668.2 1892.3,1668.3 1895.2,1668.3 1898.1,1668.4 1901.0,1668.5 1903.9,1668.5 1906.8,1668.6 1909.7,1668.7 1912.6,1668.7 1915.5,1668.8 1918.3,1668.9 1921.2,1668.9 1924.1,1669.0 1927.0,1669.0 1929.9,1669.1 1932.8,1669.2 1935.7,1669.2 1938.6,1669.3 1941.5,1669.3 1944.4,1669.4 1947.3,1669.4 1950.2,1669.5 1953.1,1669.5 1956.0,1669.6 1958.8,1669.6 1961.7,1669.7 1964.6,1669.7 1967.5,1669.8 1970.4,1669.8 1973.3,1669.9 1976.2,1669.9 1979.1,1669.9 1982.0,1670.0 1984.9,1670.0 1987.8,1670.1 1990.7,1670.1 1993.6,1670.2 1996.5,1670.2 1999.3,1670.2 2002.2,1670.3 2005.1,1670.3 2008.0,1670.3 2010.9,1670.4 2013.8,1670.4 2016.7,1670.4 2019.6,1670.5 2022.5,1670.5 2025.4,1670.6 2028.3,1670.6 2031.2,1670.6 2034.1,1670.6 2037.0,1670.7 2039.8,1670.7 2042.7,1670.7 2045.6,1670.8 2048.5,1670.8 2051.4,1670.8 2054.3,1670.9 2057.2,1670.9 2060.1,1670.9 2063.0,1670.9 2065.9,1671.0 2068.8,1671.0 2071.7,1671.0 2074.6,1671.0 2077.4,1671.1 2080.3,1671.1 2083.2,1671.1 2086.1,1671.1 2089.0,1671.1 2091.9,1671.2 2094.8,1671.2 2097.7,1671.2 2100.6,1671.2 2103.5,1671.3 2106.4,1671.3 2109.3,1671.3 2112.2,1671.3 2115.1,1671.3 2117.9,1671.4 2120.8,1671.4 2123.7,1671.4 2126.6,1671.4 2129.5,1671.4 2132.4,1671.4 2135.3,1671.5 2138.2,1671.5 2141.1,1671.5 2144.0,1671.5 2146.9,1671.5 2149.8,1671.5 2152.7,1671.6 2155.6,1671.6 2158.4,1671.6 2161.3,1671.6 2164.2,1671.6 2167.1,1671.6 2170.0,1671.6 2172.9,1671.7 2175.8,1671.7 2178.7,1671.7 2181.6,1671.7 2184.5,1671.7 2187.4,1671.7 2190.3,1671.7 2193.2,1671.7 2196.0,1671.8 2198.9,1671.8 2201.8,1671.8 2204.7,1671.8 2207.6,1671.8 2210.5,1671.8 2213.4,1671.8 2216.3,1671.8 2219.2,1671.8 2222.1,1671.9 2225.0,1671.9 2227.9,1671.9 2230.8,1671.9 2233.7,1671.9 2236.5,1671.9 2239.4,1671.9 2242.3,1671.9 2245.2,1671.9 2248.1,1671.9 2251.0,1672.0 2253.9,1672.0 2256.8,1672.0 2259.7,1672.0 2262.6,1672.0 2265.5,1672.0 2268.4,1672.0 2271.3,1672.0 2274.2,1672.0 2277.0,1672.0 2279.9,1672.0 2282.8,1672.0 2285.7,1672.0 2288.6,1672.1 2291.5,1672.1 2294.4,1672.1 2297.3,1672.1 2300.2,1672.1 2303.1,1672.1 2306.0,1672.1 2308.9,1672.1 2311.8,1672.1 2314.7,1672.1 2317.5,1672.1 2320.4,1672.1 2323.3,1672.1 2326.2,1672.1 2329.1,1672.1 2332.0,1672.1 2334.9,1672.1 2337.8,1672.2 2340.7,1672.2 2343.6,1672.2 2346.5,1672.2 2349.4,1672.2 2352.3,1672.2 2355.1,1672.2 2358.0,1672.2 2360.9,1672.2 2363.8,1672.2 2366.7,1672.2 2369.6,1672.2 2372.5,1672.2 2375.4,1672.2 2378.3,1672.2 2381.2,1672.2 2384.1,1672.2 2387.0,1672.2 2389.9,1672.2 2392.8,1672.2 2395.6,1672.2 2398.5,1672.2 2401.4,1672.2 2404.3,1672.2 2407.2,1672.3 2410.1,1672.3 2413.0,1672.3 2415.9,1672.3 2418.8,1672.3 2421.7,1672.3 2424.6,1672.3 2427.5,1672.3 2430.4,1672.3 2433.3,1672.3 2436.1,1672.3 2439.0,1672.3 2441.9,1672.3 2444.8,1672.3 2447.7,1672.3 2450.6,1672.3 2453.5,1672.3"/>
<polyline points="431.5,1002.2 434.4,1002.5 437.3,1002.8 440.2,1003.1 443.1,1003.4 446.0,1003.7 448.9,1004.0 451.7,1004.4 454.6,1004.7 457.5,1005.0 460.4,1005.4 463.3,1005.7 466.2,1006.1 469.1,1006.4 472.0,1006.8 474.9,1007.2 477.8,1007.5 480.7,1007.9 483.6,1008.3 486.5,1008.7 489.4,1009.1 492.2,1009.5 495.1,1009.9 498.0,1010.3 500.9,1010.8 503.8,1011.2 506.7,1011.6 509.6,1012.1 512.5,1012.5 515.4,1013.0 518.3,1013.5 521.2,1013.9 524.1,1014.4 527.0,1014.9 529.9,1015.4 532.7,1015.9 535.6,1016.4 538.5,1017.0 541.4,1017.5 544.3,1018.0 547.2,1018.6 550.1,1019.2 553.0,1019.7 555.9,1020.3 558.8,1020.9 561.7,1021.5 564.6,1022.1 567.5,1022.7 570.3,1023.3 573.2,1023.9 576.1,1024.6 579.0,1025.2 581.9,1025.9 584.8,1026.6 587.7,1027.2 590.6,1027.9 593.5,1028.6 596.4,1029.3 599.3,1030.1 602.2,1030.8 605.1,1031.6 608.0,1032.3 610.8,1033.1 613.7,1033.9 616.6,1034.6 619.5,1035.5 622.4,1036.3 625.3,1037.1 628.2,1037.9 631.1,1038.8 634.0,1039.6 636.9,1040.5 639.8,1041.4 642.7,1042.3 645.6,1043.2 648.5,1044.2 651.3,1045.1 654.2,1046.1 657.1,1047.0 660.0,1048.0 662.9,1049.0 665.8,1050.0 668.7,1051.0 671.6,1052.1 674.5,1053.1 677.4,1054.2 680.3,1055.3 683.2,1056.4 686.1,1057.5 689.0,1058.6 691.8,1059.8 694.7,1060.9 697.6,1062.1 700.5,1063.3 703.4,1064.5 706.3,1065.7 709.2,1067.0 712.1,1068.2 715.0,1069.5 717.9,1070.8 720.8,1072.1 723.7,1073.4 726.6,1074.8 729.4,1076.1 732.3,1077.5 735.2,1078.9 738.1,1080.3 741.0,1081.7 743.9,1083.2 746.8,1084.6 749.7,1086.1 752.6,1087.6 755.5,1089.1 758.4,1090.7 761.3,1092.2 764.2,1093.8 767.1,1095.4 769.9,1097.0 772.8,1098.6 775.7,1100.3 778.6,1102.0 781.5,1103.7 784.4,1105.4 787.3,1107.1 790.2,1108.8 793.1,1110.6 796.0,1112.4 798.9,1114.2 801.8,1116.0 804.7,1117.8 807.6,1119.7 810.4,1121.6 813.3,1123.5 816.2,1125.4 819.1,1127.4 822.0,1129.3 824.9,1131.3 827.8,1133.3 830.7,1135.3 833.6,1137.4 836.5,1139.4 839.4,1141.5 842.3,1143.6 845.2,1145.7 848.0,1147.9 850.9,1150.0 853.8,1152.2 856.7,1154.4 859.6,1156.6 862.5,1158.8 865.4,1161.1 868.3,1163.4 871.2,1165.7 874.1,1168.0 877.0,1170.3 879.9,1172.6 882.8,1175.0 885.7,1177.4 888.5,1179.8 891.4,1182.2 894.3,1184.7 897.2,1187.1 900.1,1189.6 903.0,1192.1 905.9,1194.6 908.8,1197.1 911.7,1199.7 914.6,1202.2 917.5,1204.8 920.4,1207.4 923.3,1210.0 926.2,1212.6 929.0,1215.3 931.9,1217.9 934.8,1220.6 937.7,1223.3 940.6,1226.0 943.5,1228.7 946.4,1231.4 949.3,1234.1 952.2,1236.9 955.1,1239.6 958.0,1242.4 960.9,1245.2 963.8,1248.0 966.7,1250.8 969.5,1253.6 972.4,1256.5 975.3,1259.3 978.2,1262.2 981.1,1265.0 984.0,1267.9 986.9,1270.8 989.8,1273.7 992.7,1276.6 995.6,1279.5 998.5,1282.4 1001.4,1285.3 1004.3,1288.2 1007.1,1291.2 1010.0,1294.1 1012.9,1297.0 1015.8,1300.0 1018.7,1302.9 1021.6,1305.9 1024.5,1308.9 1027.4,1311.8 1030.3,1314.8 1033.2,1317.7 1036.1,1320.7 1039.0,1323.7 1041.9,1326.6 1044.8,1329.6 1047.6,1332.6 1050.5,1335.5 1053.4,1338.5 1056.3,1341.5 1059.2,1344.4 1062.1,1347.4 1065.0,1350.4 1067.9,1353.3 1070.8,1356.3 1073.7,1359.2 1076.6,1362.2 1079.5,1365.1 1082.4,1368.0 1085.3,1371.0 1088.1,1373.9 1091.0,1376.8 1093.9,1379.7 1096.8,1382.6 1099.7,1385.5 1102.6,1388.4 1105.5,1391.3 1108.4,1394.1 1111.3,1397.0 1114.2,1399.8 1117.1,1402.7 1120.0,1405.5 1122.9,1408.3 1125.7,1411.1 1128.6,1413.9 1131.5,1416.7 1134.4,1419.4 1137.3,1422.2 1140.2,1424.9 1143.1,1427.7 1146.0,1430.4 1148.9,1433.1 1151.8,1435.8 1154.7,1438.5 1157.6,1441.1 1160.5,1443.8 1163.4,1446.4 1166.2,1449.0 1169.1,1451.6 1172.0,1454.2 1174.9,1456.7 1177.8,1459.3 1180.7,1461.8 1183.6,1464.3 1186.5,1466.8 1189.4,1469.3 1192.3,1471.8 1195.2,1474.2 1198.1,1476.6 1201.0,1479.1 1203.9,1481.4 1206.7,1483.8 1209.6,1486.2 1212.5,1488.5 1215.4,1490.8 1218.3,1493.1 1221.2,1495.4 1224.1,1497.7 1227.0,1499.9 1229.9,1502.1 1232.8,1504.3 1235.7,1506.5 1238.6,1508.7 1241.5,1510.8 1244.3,1512.9 1247.2,1515.1 1250.1,1517.1 1253.0,1519.2 1255.9,1521.2 1258.8,1523.3 1261.7,1525.3 1264.6,1527.3 1267.5,1529.2 1270.4,1531.2 1273.3,1533.1 1276.2,1535.0 1279.1,1536.9 1282.0,1538.8 1284.8,1540.6 1287.7,1542.5 1290.6,1544.3 1293.5,1546.1 1296.4,1547.8 1299.3,1549.6 1302.2,1551.3 1305.1,1553.0 1308.0,1554.7 1310.9,1556.4 1313.8,1558.1 1316.7,1559.7 1319.6,1561.3 1322.5,1562.9 1325.3,1564.5 1328.2,1566.0 1331.1,1567.6 1334.0,1569.1 1336.9,1570.6 1339.8,1572.1 1342.7,1573.6 1345.6,1575.0 1348.5,1576.5 1351.4,1577.9 1354.3,1579.3 1357.2,1580.7 1360.1,1582.0 1363.0,1583.4 1365.8,1584.7 1368.7,1586.0 1371.6,1587.3 1374.5,1588.6 1377.4,1589.9 1380.3,1591.1 1383.2,1592.3 1386.1,1593.5 1389.0,1594.7 1391.9,1595.9 1394.8,1597.1 1397.7,1598.2 1400.6,1599.4 1403.4,1600.5 1406.3,1601.6 1409.2,1602.7 1412.1,1603.8 1415.0,1604.8 1417.9,1605.9 1420.8,1606.9 1423.7,1607.9 1426.6,1608.9 1429.5,1609.9 1432.4,1610.9 1435.3,1611.8 1438.2,1612.8 1441.1,1613.7 1443.9,1614.6 1446.8,1615.5 1449.7,1616.4 1452.6,1617.3 1455.5,1618.2 1458.4,1619.0 1461.3,1619.9 1464.2,1620.7 1467.1,1621.5 1470.0,1622.3 1472.9,1623.1 1475.8,1623.9 1478.7,1624.7 1481.6,1625.4 1484.4,1626.2 1487.3,1626.9 1490.2,1627.7 1493.1,1628.4 1496.0,1629.1 1498.9,1629.8 1501.8,1630.5 1504.7,1631.1 1507.6,1631.8 1510.5,1632.5 1513.4,1633.1 1516.3,1633.7 1519.2,1634.4 1522.0,1635.0 1524.9,1635.6 1527.8,1636.2 1530.7,1636.8 1533.6,1637.3 1536.5,1637.9 1539.4,1638.5 1542.3,1639.0 1545.2,1639.6 1548.1,1640.1 1551.0,1640.6 1553.9,1641.1 1556.8,1641.7 1559.7,1642.2 1562.5,1642.6 1565.4,1643.1 1568.3,1643.6 1571.2,1644.1 1574.1,1644.6 1577.0,1645.0 1579.9,1645.5 1582.8,1645.9 1585.7,1646.3 1588.6,1646.8 1591.5,1647.2 1594.4,1647.6 1597.3,1648.0 1600.2,1648.4 1603.0,1648.8 1605.9,1649.2 1608.8,1649.6 1611.7,1650.0 1614.6,1650.3 1617.5,1650.7 1620.4,1651.1 1623.3,1651.4 1626.2,1651.8 1629.1,1652.1 1632.0,1652.4 1634.9,1652.8 1637.8,1653.1 1640.7,1653.4 1643.5,1653.7 1646.4,1654.0 1649.3,1654.3 1652.2,1654.6 1655.1,1654.9 1658.0,1655.2 1660.9,1655.5 1663.8,1655.8 1666.7,1656.1 1669.6,1656.3 1672.5,1656.6 1675.4,1656.9 1678.3,1657.1 1681.1,1657.4 1684.0,1657.6 1686.9,1657.9 1689.8,1658.1 1692.7,1658.4 1695.6,1658.6 1698.5,1658.8 1701.4,1659.1 1704.3,1659.3 1707.2,1659.5 1710.1,1659.7 1713.0,1659.9 1715.9,1660.1 1718.8,1660.3 1721.6,1660.5 1724.5,1660.7 1727.4,1660.9 1730.3,1661.1 1733.2,1661.3 1736.1,1661.5 1739.0,1661.7 1741.9,1661.9 1744.8,1662.0 1747.7,1662.2 1750.6,1662.4 1753.5,1662.6 1756.4,1662.7 1759.3,1662.9 1762.1,1663.0 1765.0,1663.2 1767.9,1663.4 1770.8,1663.5 1773.7,1663.7 1776.6,1663.8 1779.5,1663.9 1782.4,1664.1 1785.3,1664.2 1788.2,1664.4 1791.1,1664.5 1794.0,1664.6 1796.9,1664.8 1799.7,1664.9 1802.6,1665.0 1805.5,1665.1 1808.4,1665.3 1811.3,1665.4 1814.2,1665.5 1817.1,1665.6 1820.0,1665.7 1822.9,1665.8 1825.8,1666.0 1828.7,1666.1 1831.6,1666.2 1834.5,1666.3 1837.4,1666.4 1840.2,1666.5 1843.1,1666.6 1846.0,1666.7 1848.9,1666.8 1851.8,1666.9 1854.7,1667.0 1857.6,1667.0 1860.5,1667.1 1863.4,1667.2 1866.3,1667.3 1869.2,1667.4 1872.1,1667.5 1875.0,1667.6 1877.9,1667.6 1880.7,1667.7 1883.6,1667.8 1886.5,1667.9 1889.4,1668.0 1892.3,1668.0 1895.2,1668.1 1898.1,1668.2 1901.0,1668.2 1903.9,1668.3 1906.8,1668.4 1909.7,1668.5 1912.6,1668.5 1915.5,1668.6 1918.3,1668.6 1921.2,1668.7 1924.1,1668.8 1927.0,1668.8 1929.9,1668.9 1932.8,1668.9 1935.7,1669.0 1938.6,1669.1 1941.5,1669.1 1944.4,1669.2 1947.3,1669.2 1950.2,1669.3 1953.1,1669.3 1956.0,1669.4 1958.8,1669.4 1961.7,1669.5 1964.6,1669.5 1967.5,1669.6 1970.4,1669.6 1973.3,1669.7 1976.2,1669.7 1979.1,1669.8 1982.0,1669.8 1984.9,1669.8 1987.8,1669.9 1990.7,1669.9 1993.6,1670.0 1996.5,1670.0 1999.3,1670.1 2002.2,1670.1 2005.1,1670.1 2008.0,1670.2 2010.9,1670.2 2013.8,1670.2 2016.7,1670.3 2019.6,1670.3 2022.5,1670.3 2025.4,1670.4 2028.3,1670.4 2031.2,1670.4 2034.1,1670.5 2037.0,1670.5 2039.8,1670.5 2042.7,1670.6 2045.6,1670.6 2048.5,1670.6 2051.4,1670.7 2054.3,1670.7 2057.2,1670.7 2060.1,1670.7 2063.0,1670.8 2065.9,1670.8 2068.8,1670.8 2071.7,1670.9 2074.6,1670.9 2077.4,1670.9 2080.3,1670.9 2083.2,1670.9 2086.1,1671.0 2089.0,1671.0 2091.9,1671.0 2094.8,1671.0 2097.7,1671.1 2100.6,1671.1 2103.5,1671.1 2106.4,1671.1 2109.3,1671.1 2112.2,1671.2 2115.1,1671.2 2117.9,1671.2 2120.8,1671.2 2123.7,1671.2 2126.6,1671.3 2129.5,1671.3 2132.4,1671.3 2135.3,1671.3 2138.2,1671.3 2141.1,1671.4 2144.0,1671.4 2146.9,1671.4 2149.8,1671.4 2152.7,1671.4 2155.6,1671.4 2158.4,1671.4 2161.3,1671.5 2164.2,1671.5 2167.1,1671.5 2170.0,1671.5 2172.9,1671.5 2175.8,1671.5 2178.7,1671.5 2181.6,1671.6 2184.5,1671.6 2187.4,1671.6 2190.3,1671.6 2193.2,1671.6 2196.0,1671.6 2198.9,1671.6 2201.8,1671.6 2204.7,1671.7 2207.6,1671.7 2210.5,1671.7 2213.4,1671.7 2216.3,1671.7 2219.2,1671.7 2222.1,1671.7 2225.0,1671.7 2227.9,1671.7 2230.8,1671.8 2233.7,1671.8 2236.5,1671.8 2239.4,1671.8 2242.3,1671.8 2245.2,1671.8 2248.1,1671.8 2251.0,1671.8 2253.9,1671.8 2256.8,1671.8 2259.7,1671.8 2262.6,1671.9 2265.5,1671.9 2268.4,1671.9 2271.3,1671.9 2274.2,1671.9 2277.0,1671.9 2279.9,1671.9 2282.8,1671.9 2285.7,1671.9 2288.6,1671.9 2291.5,1671.9 2294.4,1671.9 2297.3,1671.9 2300.2,1672.0 2303.1,1672.0 2306.0,1672.0 2308.9,1672.0 2311.8,1672.0 2314.7,1672.0 2317.5,1672.0 2320.4,1672.0 2323.3,1672.0 2326.2,1672.0 2329.1,1672.0 2332.0,1672.0 2334.9,1672.0 2337.8,1672.0 2340.7,1672.0 2343.6,1672.0 2346.5,1672.0 2349.4,1672.0 2352.3,1672.1 2355.1,1672.1 2358.0,1672.1 2360.9,1672.1 2363.8,1672.1 2366.7,1672.1 2369.6,1672.1 2372.5,1672.1 2375.4,1672.1 2378.3,1672.1 2381.2,1672.1 2384.1,1672.1 2387.0,1672.1 2389.9,1672.1 2392.8,1672.1 2395.6,1672.1 2398.5,1672.1 2401.4,1672.1 2404.3,1672.1 2407.2,1672.1 2410.1,1672.1 2413.0,1672.1 2415.9,1672.1 2418.8,1672.1 2421.7,1672.1 2424.6,1672.2 2427.5,1672.2 2430.4,1672.2 2433.3,1672.2 2436.1,1672.2 2439.0,1672.2 2441.9,1672.2 2444.8,1672.2 2447.7,1672.2 2450.6,1672.2 2453.5,1672.2"/>
<polyline points="431.5,1030.2 434.4,1030.4 437.3,1030.7 440.2,1030.9 443.1,1031.2 446.0,1031.4 448.9,1031.7 451.7,1032.0 454.6,1032.3 457.5,1032.6 460.4,1032.8 463.3,1033.1 466.2,1033.4 469.1,1033.7 472.0,1034.0 474.9,1034.4 477.8,1034.7 480.7,1035.0 483.6,1035.3 486.5,1035.7 489.4,1036.0 492.2,1036.4 495.1,1036.7 498.0,1037.1 500.9,1037.4 503.8,1037.8 506.7,1038.2 509.6,1038.6 512.5,1038.9 515.4,1039.3 518.3,1039.7 521.2,1040.1 524.1,1040.6 527.0,1041.0 529.9,1041.4 532.7,1041.8 535.6,1042.3 538.5,1042.7 541.4,1043.2 544.3,1043.6 547.2,1044.1 550.1,1044.6 553.0,1045.1 555.9,1045.6 558.8,1046.1 561.7,1046.6 564.6,1047.1 567.5,1047.6 570.3,1048.1 573.2,1048.7 576.1,1049.2 579.0,1049.8 581.9,1050.3 584.8,1050.9 587.7,1051.5 590.6,1052.1 593.5,1052.7 596.4,1053.3 599.3,1053.9 602.2,1054.6 605.1,1055.2 608.0,1055.9 610.8,1056.5 613.7,1057.2 616.6,1057.9 619.5,1058.5 622.4,1059.2 625.3,1060.0 628.2,1060.7 631.1,1061.4 634.0,1062.2 636.9,1062.9 639.8,1063.7 642.7,1064.5 645.6,1065.2 648.5,1066.0 651.3,1066.9 654.2,1067.7 657.1,1068.5 660.0,1069.4 662.9,1070.2 665.8,1071.1 668.7,1072.0 671.6,1072.9 674.5,1073.8 677.4,1074.7 680.3,1075.7 683.2,1076.6 686.1,1077.6 689.0,1078.5 691.8,1079.5 694.7,1080.5 697.6,1081.6 700.5,1082.6 703.4,1083.6 706.3,1084.7 709.2,1085.8 712.1,1086.9 715.0,1088.0 717.9,1089.1 720.8,1090.2 723.7,1091.4 726.6,1092.6 729.4,1093.7 732.3,1094.9 735.2,1096.2 738.1,1097.4 741.0,1098.6 743.9,1099.9 746.8,1101.2 749.7,1102.5 752.6,1103.8 755.5,1105.1 758.4,1106.5 761.3,1107.8 764.2,1109.2 767.1,1110.6 769.9,1112.0 772.8,1113.4 775.7,1114.9 778.6,1116.4 781.5,1117.8 784.4,1119.3 787.3,1120.9 790.2,1122.4 793.1,1124.0 796.0,1125.5 798.9,1127.1 801.8,1128.7 804.7,1130.4 807.6,1132.0 810.4,1133.7 813.3,1135.4 816.2,1137.1 819.1,1138.8 822.0,1140.5 824.9,1142.3 827.8,1144.1 830.7,1145.9 833.6,1147.7 836.5,1149.5 839.4,1151.4 842.3,1153.2 845.2,1155.1 848.0,1157.0 850.9,1159.0 853.8,1160.9 856.7,1162.9 859.6,1164.9 862.5,1166.9 865.4,1168.9 868.3,1170.9 871.2,1173.0 874.1,1175.1 877.0,1177.2 879.9,1179.3 882.8,1181.4 885.7,1183.6 888.5,1185.7 891.4,1187.9 894.3,1190.1 897.2,1192.3 900.1,1194.6 903.0,1196.8 905.9,1199.1 908.8,1201.4 911.7,1203.7 914.6,1206.1 917.5,1208.4 920.4,1210.8 923.3,1213.2 926.2,1215.5 929.0,1218.0 931.9,1220.4 934.8,1222.8 937.7,1225.3 940.6,1227.8 943.5,1230.3 946.4,1232.8 949.3,1235.3 952.2,1237.8 955.1,1240.4 958.0,1242.9 960.9,1245.5 963.8,1248.1 966.7,1250.7 969.5,1253.3 972.4,1255.9 975.3,1258.6 978.2,1261.2 981.1,1263.9 984.0,1266.6 986.9,1269.3 989.8,1272.0 992.7,1274.7 995.6,1277.4 998.5,1280.1 1001.4,1282.8 1004.3,1285.6 1007.1,1288.3 1010.0,1291.1 1012.9,1293.9 1015.8,1296.7 1018.7,1299.4 1021.6,1302.2 1024.5,1305.0 1027.4,1307.8 1030.3,1310.6 1033.2,1313.4 1036.1,1316.3 1039.0,1319.1 1041.9,1321.9 1044.8,1324.7 1047.6,1327.6 1050.5,1330.4 1053.4,1333.2 1056.3,1336.1 1059.2,1338.9 1062.1,1341.7 1065.0,1344.6 1067.9,1347.4 1070.8,1350.3 1073.7,1353.1 1076.6,1355.9 1079.5,1358.8 1082.4,1361.6 1085.3,1364.4 1088.1,1367.3 1091.0,1370.1 1093.9,1372.9 1096.8,1375.7 1099.7,1378.5 1102.6,1381.3 1105.5,1384.1 1108.4,1386.9 1111.3,1389.7 1114.2,1392.5 1117.1,1395.3 1120.0,1398.0 1122.9,1400.8 1125.7,1403.6 1128.6,1406.3 1131.5,1409.0 1134.4,1411.8 1137.3,1414.5 1140.2,1417.2 1143.1,1419.9 1146.0,1422.5 1148.9,1425.2 1151.8,1427.9 1154.7,1430.5 1157.6,1433.2 1160.5,1435.8 1163.4,1438.4 1166.2,1441.0 1169.1,1443.6 1172.0,1446.2 1174.9,1448.7 1177.8,1451.3 1180.7,1453.8 1183.6,1456.3 1186.5,1458.8 1189.4,1461.3 1192.3,1463.8 1195.2,1466.2 1198.1,1468.7 1201.0,1471.1 1203.9,1473.5 1206.7,1475.9 1209.6,1478.3 1212.5,1480.6 1215.4,1483.0 1218.3,1485.3 1221.2,1487.6 1224.1,1489.9 1227.0,1492.2 1229.9,1494.4 1232.8,1496.7 1235.7,1498.9 1238.6,1501.1 1241.5,1503.3 1244.3,1505.4 1247.2,1507.6 1250.1,1509.7 1253.0,1511.8 1255.9,1513.9 1258.8,1516.0 1261.7,1518.0 1264.6,1520.1 1267.5,1522.1 1270.4,1524.1 1273.3,1526.1 1276.2,1528.0 1279.1,1530.0 1282.0,1531.9 1284.8,1533.8 1287.7,1535.7 1290.6,1537.5 1293.5,1539.4 1296.4,1541.2 1299.3,1543.0 1302.2,1544.8 1305.1,1546.6 1308.0,1548.3 1310.9,1550.1 1313.8,1551.8 1316.7,1553.5 1319.6,1555.2 1322.5,1556.8 1325.3,1558.5 1328.2,1560.1 1331.1,1561.7 1334.0,1563.3 1336.9,1564.8 1339.8,1566.4 1342.7,1567.9 1345.6,1569.4 1348.5,1570.9 1351.4,1572.4 1354.3,1573.9 1357.2,1575.3 1360.1,1576.8 1363.0,1578.2 1365.8,1579.6 1368.7,1580.9 1371.6,1582.3 1374.5,1583.6 1377.4,1585.0 1380.3,1586.3 1383.2,1587.6 1386.1,1588.8 1389.0,1590.1 1391.9,1591.3 1394.8,1592.6 1397.7,1593.8 1400.6,1595.0 1403.4,1596.1 1406.3,1597.3 1409.2,1598.4 1412.1,1599.6 1415.0,1600.7 1417.9,1601.8 1420.8,1602.9 1423.7,1604.0 1426.6,1605.0 1429.5,1606.1 1432.4,1607.1 1435.3,1608.1 1438.2,1609.1 1441.1,1610.1 1443.9,1611.1 1446.8,1612.0 1449.7,1613.0 1452.6,1613.9 1455.5,1614.8 1458.4,1615.7 1461.3,1616.6 1464.2,1617.5 1467.1,1618.4 1470.0,1619.2 1472.9,1620.1 1475.8,1620.9 1478.7,1621.7 1481.6,1622.6 1484.4,1623.3 1487.3,1624.1 1490.2,1624.9 1493.1,1625.7 1496.0,1626.4 1498.9,1627.2 1501.8,1627.9 1504.7,1628.6 1507.6,1629.3 1510.5,1630.0 1513.4,1630.7 1516.3,1631.4 1519.2,1632.0 1522.0,1632.7 1524.9,1633.3 1527.8,1634.0 1530.7,1634.6 1533.6,1635.2 1536.5,1635.8 1539.4,1636.4 1542.3,1637.0 1545.2,1637.6 1548.1,1638.2 1551.0,1638.7 1553.9,1639.3 1556.8,1639.8 1559.7,1640.4 1562.5,1640.9 1565.4,1641.4 1568.3,1641.9 1571.2,1642.4 1574.1,1642.9 1577.0,1643.4 1579.9,1643.9 1582.8,1644.4 1585.7,1644.9 1588.6,1645.3 1591.5,1645.8 1594.4,1646.2 1597.3,1646.7 1600.2,1647.1 1603.0,1647.5 1605.9,1647.9 1608.8,1648.3 1611.7,1648.7 1614.6,1649.1 1617.5,1649.5 1620.4,1649.9 1623.3,1650.3 1626.2,1650.7 1629.1,1651.0 1632.0,1651.4 1634.9,1651.8 1637.8,1652.1 1640.7,1652.5 1643.5,1652.8 1646.4,1653.1 1649.3,1653.5 1652.2,1653.8 1655.1,1654.1 1658.0,1654.4 1660.9,1654.7 1663.8,1655.0 1666.7,1655.3 1669.6,1655.6 1672.5,1655.9 1675.4,1656.2 1678.3,1656.5 1681.1,1656.7 1684.0,1657.0 1686.9,1657.3 1689.8,1657.5 1692.7,1657.8 1695.6,1658.0 1698.5,1658.3 1701.4,1658.5 1704.3,1658.8 1707.2,1659.0 1710.1,1659.2 1713.0,1659.5 1715.9,1659.7 1718.8,1659.9 1721.6,1660.1 1724.5,1660.3 1727.4,1660.6 1730.3,1660.8 1733.2,1661.0 1736.1,1661.2 1739.0,1661.4 1741.9,1661.6 1744.8,1661.7 1747.7,1661.9 1750.6,1662.1 1753.5,1662.3 1756.4,1662.5 1759.3,1662.7 1762.1,1662.8 1765.0,1663.0 1767.9,1663.2 1770.8,1663.3 1773.7,1663.5 1776.6,1663.6 1779.5,1663.8 1782.4,1664.0 1785.3,1664.1 1788.2,1664.3 1791.1,1664.4 1794.0,1664.5 1796.9,1664.7 1799.7,1664.8 1802.6,1665.0 1805.5,1665.1 1808.4,1665.2 1811.3,1665.4 1814.2,1665.5 1817.1,1665.6 1820.0,1665.7 1822.9,1665.8 1825.8,1666.0 1828.7,1666.1 1831.6,1666.2 1834.5,1666.3 1837.4,1666.4 1840.2,1666.5 1843.1,1666.6 1846.0,1666.7 1848.9,1666.8 1851.8,1667.0 1854.7,1667.1 1857.6,1667.2 1860.5,1667.2 1863.4,1667.3 1866.3,1667.4 1869.2,1667.5 1872.1,1667.6 1875.0,1667.7 1877.9,1667.8 1880.7,1667.9 1883.6,1668.0 1886.5,1668.1 1889.4,1668.1 1892.3,1668.2 1895.2,1668.3 1898.1,1668.4 1901.0,1668.4 1903.9,1668.5 1906.8,1668.6 1909.7,1668.7 1912.6,1668.7 1915.5,1668.8 1918.3,1668.9 1921.2,1668.9 1924.1,1669.0 1927.0,1669.1 1929.9,1669.1 1932.8,1669.2 1935.7,1669.3 1938.6,1669.3 1941.5,1669.4 1944.4,1669.5 1947.3,1669.5 1950.2,1669.6 1953.1,1669.6 1956.0,1669.7 1958.8,1669.7 1961.7,1669.8 1964.6,1669.8 1967.5,1669.9 1970.4,1669.9 1973.3,1670.0 1976.2,1670.0 1979.1,1670.1 1982.0,1670.1 1984.9,1670.2 1987.8,1670.2 1990.7,1670.3 1993.6,1670.3 1996.5,1670.4 1999.3,1670.4 2002.2,1670.4 2005.1,1670.5 2008.0,1670.5 2010.9,1670.6 2013.8,1670.6 2016.7,1670.6 2019.6,1670.7 2022.5,1670.7 2025.4,1670.8 2028.3,1670.8 2031.2,1670.8 2034.1,1670.9 2037.0,1670.9 2039.8,1670.9 2042.7,1671.0 2045.6,1671.0 2048.5,1671.0 2051.4,1671.1 2054.3,1671.1 2057.2,1671.1 2060.1,1671.2 2063.0,1671.2 2065.9,1671.2 2068.8,1671.2 2071.7,1671.3 2074.6,1671.3 2077.4,1671.3 2080.3,1671.3 2083.2,1671.4 2086.1,1671.4 2089.0,1671.4 2091.9,1671.4 2094.8,1671.5 2097.7,1671.5 2100.6,1671.5 2103.5,1671.5 2106.4,1671.6 2109.3,1671.6 2112.2,1671.6 2115.1,1671.6 2117.9,1671.7 2120.8,1671.7 2123.7,1671.7 2126.6,1671.7 2129.5,1671.7 2132.4,1671.8 2135.3,1671.8 2138.2,1671.8 2141.1,1671.8 2144.0,1671.8 2146.9,1671.8 2149.8,1671.9 2152.7,1671.9 2155.6,1671.9 2158.4,1671.9 2161.3,1671.9 2164.2,1671.9 2167.1,1672.0 2170.0,1672.0 2172.9,1672.0 2175.8,1672.0 2178.7,1672.0 2181.6,1672.0 2184.5,1672.0 2187.4,1672.1 2190.3,1672.1 2193.2,1672.1 2196.0,1672.1 2198.9,1672.1 2201.8,1672.1 2204.7,1672.1 2207.6,1672.2 2210.5,1672.2 2213.4,1672.2 2216.3,1672.2 2219.2,1672.2 2222.1,1672.2 2225.0,1672.2 2227.9,1672.2 2230.8,1672.2 2233.7,1672.3 2236.5,1672.3 2239.4,1672.3 2242.3,1672.3 2245.2,1672.3 2248.1,1672.3 2251.0,1672.3 2253.9,1672.3 2256.8,1672.3 2259.7,1672.3 2262.6,1672.4 2265.5,1672.4 2268.4,1672.4 2271.3,1672.4 2274.2,1672.4 2277.0,1672.4 2279.9,1672.4 2282.8,1672.4 2285.7,1672.4 2288.6,1672.4 2291.5,1672.4 2294.4,1672.4 2297.3,1672.4 2300.2,1672.5 2303.1,1672.5 2306.0,1672.5 2308.9,1672.5 2311.8,1672.5 2314.7,1672.5 2317.5,1672.5 2320.4,1672.5 2323.3,1672.5 2326.2,1672.5 2329.1,1672.5 2332.0,1672.5 2334.9,1672.5 2337.8,1672.5 2340.7,1672.5 2343.6,1672.6 2346.5,1672.6 2349.4,1672.6 2352.3,1672.6 2355.1,1672.6 2358.0,1672.6 2360.9,1672.6 2363.8,1672.6 2366.7,1672.6 2369.6,1672.6 2372.5,1672.6 2375.4,1672.6 2378.3,1672.6 2381.2,1672.6 2384.1,1672.6 2387.0,1672.6 2389.9,1672.6 2392.8,1672.6 2395.6,1672.6 2398.5,1672.6 2401.4,1672.6 2404.3,1672.6 2407.2,1672.7 2410.1,1672.7 2413.0,1672.7 2415.9,1672.7 2418.8,1672.7 2421.7,1672.7 2424.6,1672.7 2427.5,1672.7 2430.4,1672.7 2433.3,1672.7 2436.1,1672.7 2439.0,1672.7 2441.9,1672.7 2444.8,1672.7 2447.7,1672.7 2450.6,1672.7 2453.5,1672.7"/>
<polyline points="431.5,1123.1 434.4,1123.3 437.3,1123.4 440.2,1123.6 443.1,1123.7 446.0,1123.9 448.9,1124.0 451.7,1124.2 454.6,1124.4 457.5,1124.5 460.4,1124.7 463.3,1124.9 466.2,1125.0 469.1,1125.2 472.0,1125.4 474.9,1125.6 477.8,1125.8 480.7,1126.0 483.6,1126.2 486.5,1126.3 489.4,1126.5 492.2,1126.8 495.1,1127.0 498.0,1127.2 500.9,1127.4 503.8,1127.6 506.7,1127.8 509.6,1128.0 512.5,1128.3 515.4,1128.5 518.3,1128.7 521.2,1129.0 524.1,1129.2 527.0,1129.5 529.9,1129.7 532.7,1130.0 535.6,1130.2 538.5,1130.5 541.4,1130.8 544.3,1131.0 547.2,1131.3 550.1,1131.6 553.0,1131.9 555.9,1132.2 558.8,1132.5 561.7,1132.8 564.6,1133.1 567.5,1133.4 570.3,1133.7 573.2,1134.0 576.1,1134.4 579.0,1134.7 581.9,1135.0 584.8,1135.4 587.7,1135.7 590.6,1136.1 593.5,1136.4 596.4,1136.8 599.3,1137.2 602.2,1137.6 605.1,1137.9 608.0,1138.3 610.8,1138.7 613.7,1139.1 616.6,1139.5 619.5,1139.9 622.4,1140.4 625.3,1140.8 628.2,1141.2 631.1,1141.7 634.0,1142.1 636.9,1142.6 639.8,1143.0 642.7,1143.5 645.6,1144.0 648.5,1144.5 651.3,1145.0 654.2,1145.5 657.1,1146.0 660.0,1146.5 662.9,1147.0 665.8,1147.5 668.7,1148.1 671.6,1148.6 674.5,1149.2 677.4,1149.7 680.3,1150.3 683.2,1150.9 686.1,1151.5 689.0,1152.1 691.8,1152.7 694.7,1153.3 697.6,1153.9 700.5,1154.6 703.4,1155.2 706.3,1155.9 709.2,1156.5 712.1,1157.2 715.0,1157.9 717.9,1158.6 720.8,1159.3 723.7,1160.0 726.6,1160.7 729.4,1161.5 732.3,1162.2 735.2,1163.0 738.1,1163.8 741.0,1164.5 743.9,1165.3 746.8,1166.1 749.7,1166.9 752.6,1167.8 755.5,1168.6 758.4,1169.5 761.3,1170.3 764.2,1171.2 767.1,1172.1 769.9,1173.0 772.8,1173.9 775.7,1174.8 778.6,1175.7 781.5,1176.7 784.4,1177.6 787.3,1178.6 790.2,1179.6 793.1,1180.6 796.0,1181.6 798.9,1182.6 801.8,1183.7 804.7,1184.7 807.6,1185.8 810.4,1186.9 813.3,1188.0 816.2,1189.1 819.1,1190.2 822.0,1191.3 824.9,1192.5 827.8,1193.7 830.7,1194.8 833.6,1196.0 836.5,1197.2 839.4,1198.5 842.3,1199.7 845.2,1201.0 848.0,1202.2 850.9,1203.5 853.8,1204.8 856.7,1206.1 859.6,1207.5 862.5,1208.8 865.4,1210.2 868.3,1211.5 871.2,1212.9 874.1,1214.3 877.0,1215.8 879.9,1217.2 882.8,1218.7 885.7,1220.1 888.5,1221.6 891.4,1223.1 894.3,1224.6 897.2,1226.2 900.1,1227.7 903.0,1229.3 905.9,1230.9 908.8,1232.5 911.7,1234.1 914.6,1235.7 917.5,1237.4 920.4,1239.0 923.3,1240.7 926.2,1242.4 929.0,1244.1 931.9,1245.9 934.8,1247.6 937.7,1249.4 940.6,1251.1 943.5,1252.9 946.4,1254.7 949.3,1256.6 952.2,1258.4 955.1,1260.3 958.0,1262.1 960.9,1264.0 963.8,1265.9 966.7,1267.8 969.5,1269.8 972.4,1271.7 975.3,1273.7 978.2,1275.6 981.1,1277.6 984.0,1279.6 986.9,1281.7 989.8,1283.7 992.7,1285.7 995.6,1287.8 998.5,1289.9 1001.4,1292.0 1004.3,1294.1 1007.1,1296.2 1010.0,1298.3 1012.9,1300.4 1015.8,1302.6 1018.7,1304.8 1021.6,1306.9 1024.5,1309.1 1027.4,1311.3 1030.3,1313.5 1033.2,1315.8 1036.1,1318.0 1039.0,1320.2 1041.9,1322.5 1044.8,1324.8 1047.6,1327.0 1050.5,1329.3 1053.4,1331.6 1056.3,1333.9 1059.2,1336.2 1062.1,1338.5 1065.0,1340.9 1067.9,1343.2 1070.8,1345.5 1073.7,1347.9 1076.6,1350.2 1079.5,1352.6 1082.4,1355.0 1085.3,1357.4 1088.1,1359.7 1091.0,1362.1 1093.9,1364.5 1096.8,1366.9 1099.7,1369.3 1102.6,1371.7 1105.5,1374.1 1108.4,1376.5 1111.3,1378.9 1114.2,1381.3 1117.1,1383.8 1120.0,1386.2 1122.9,1388.6 1125.7,1391.0 1128.6,1393.4 1131.5,1395.9 1134.4,1398.3 1137.3,1400.7 1140.2,1403.1 1143.1,1405.5 1146.0,1407.9 1148.9,1410.4 1151.8,1412.8 1154.7,1415.2 1157.6,1417.6 1160.5,1420.0 1163.4,1422.4 1166.2,1424.8 1169.1,1427.2 1172.0,1429.6 1174.9,1431.9 1177.8,1434.3 1180.7,1436.7 1183.6,1439.1 1186.5,1441.4 1189.4,1443.8 1192.3,1446.1 1195.2,1448.4 1198.1,1450.8 1201.0,1453.1 1203.9,1455.4 1206.7,1457.7 1209.6,1460.0 1212.5,1462.3 1215.4,1464.6 1218.3,1466.8 1221.2,1469.1 1224.1,1471.3 1227.0,1473.6 1229.9,1475.8 1232.8,1478.0 1235.7,1480.2 1238.6,1482.4 1241.5,1484.6 1244.3,1486.7 1247.2,1488.9 1250.1,1491.0 1253.0,1493.2 1255.9,1495.3 1258.8,1497.4 1261.7,1499.5 1264.6,1501.5 1267.5,1503.6 1270.4,1505.7 1273.3,1507.7 1276.2,1509.7 1279.1,1511.7 1282.0,1513.7 1284.8,1515.7 1287.7,1517.7 1290.6,1519.6 1293.5,1521.5 1296.4,1523.5 1299.3,1525.4 1302.2,1527.2 1305.1,1529.1 1308.0,1531.0 1310.9,1532.8 1313.8,1534.6 1316.7,1536.5 1319.6,1538.2 1322.5,1540.0 1325.3,1541.8 1328.2,1543.5 1331.1,1545.3 1334.0,1547.0 1336.9,1548.7 1339.8,1550.4 1342.7,1552.0 1345.6,1553.7 1348.5,1555.3 1351.4,1556.9 1354.3,1558.5 1357.2,1560.1 1360.1,1561.7 1363.0,1563.3 1365.8,1564.8 1368.7,1566.3 1371.6,1567.8 1374.5,1569.3 1377.4,1570.8 1380.3,1572.2 1383.2,1573.7 1386.1,1575.1 1389.0,1576.5 1391.9,1577.9 1394.8,1579.3 1397.7,1580.7 1400.6,1582.0 1403.4,1583.3 1406.3,1584.7 1409.2,1586.0 1412.1,1587.2 1415.0,1588.5 1417.9,1589.8 1420.8,1591.0 1423.7,1592.2 1426.6,1593.5 1429.5,1594.7 1432.4,1595.8 1435.3,1597.0 1438.2,1598.2 1441.1,1599.3 1443.9,1600.4 1446.8,1601.5 1449.7,1602.6 1452.6,1603.7 1455.5,1604.8 1458.4,1605.8 1461.3,1606.9 1464.2,1607.9 1467.1,1608.9 1470.0,1609.9 1472.9,1610.9 1475.8,1611.9 1478.7,1612.8 1481.6,1613.8 1484.4,1614.7 1487.3,1615.7 1490.2,1616.6 1493.1,1617.5 1496.0,1618.4 1498.9,1619.2 1501.8,1620.1 1504.7,1620.9 1507.6,1621.8 1510.5,1622.6 1513.4,1623.4 1516.3,1624.2 1519.2,1625.0 1522.0,1625.8 1524.9,1626.6 1527.8,1627.3 1530.7,1628.1 1533.6,1628.8 1536.5,1629.6 1539.4,1630.3 1542.3,1631.0 1545.2,1631.7 1548.1,1632.4 1551.0,1633.0 1553.9,1633.7 1556.8,1634.4 1559.7,1635.0 1562.5,1635.6 1565.4,1636.3 1568.3,1636.9 1571.2,1637.5 1574.1,1638.1 1577.0,1638.7 1579.9,1639.3 1582.8,1639.9 1585.7,1640.4 1588.6,1641.0 1591.5,1641.5 1594.4,1642.1 1597.3,1642.6 1600.2,1643.1 1603.0,1643.6 1605.9,1644.1 1608.8,1644.6 1611.7,1645.1 1614.6,1645.6 1617.5,1646.1 1620.4,1646.6 1623.3,1647.0 1626.2,1647.5 1629.1,1647.9 1632.0,1648.4 1634.9,1648.8 1637.8,1649.3 1640.7,1649.7 1643.5,1650.1 1646.4,1650.5 1649.3,1650.9 1652.2,1651.3 1655.1,1651.7 1658.0,1652.1 1660.9,1652.5 1663.8,1652.8 1666.7,1653.2 1669.6,1653.5 1672.5,1653.9 1675.4,1654.3 1678.3,1654.6 1681.1,1654.9 1684.0,1655.3 1686.9,1655.6 1689.8,1655.9 1692.7,1656.2 1695.6,1656.5 1698.5,1656.9 1701.4,1657.2 1704.3,1657.5 1707.2,1657.7 1710.1,1658.0 1713.0,1658.3 1715.9,1658.6 1718.8,1658.9 1721.6,1659.1 1724.5,1659.4 1727.4,1659.7 1730.3,1659.9 1733.2,1660.2 1736.1,1660.4 1739.0,1660.7 1741.9,1660.9 1744.8,1661.1 1747.7,1661.4 1750.6,1661.6 1753.5,1661.8 1756.4,1662.1 1759.3,1662.3 1762.1,1662.5 1765.0,1662.7 1767.9,1662.9 1770.8,1663.1 1773.7,1663.3 1776.6,1663.5 1779.5,1663.7 1782.4,1663.9 1785.3,1664.1 1788.2,1664.3 1791.1,1664.4 1794.0,1664.6 1796.9,1664.8 1799.7,1665.0 1802.6,1665.1 1805.5,1665.3 1808.4,1665.5 1811.3,1665.6 1814.2,1665.8 1817.1,1665.9 1820.0,1666.1 1822.9,1666.3 1825.8,1666.4 1828.7,1666.5 1831.6,1666.7 1834.5,1666.8 1837.4,1667.0 1840.2,1667.1 1843.1,1667.2 1846.0,1667.4 1848.9,1667.5 1851.8,1667.6 1854.7,1667.8 1857.6,1667.9 1860.5,1668.0 1863.4,1668.1 1866.3,1668.2 1869.2,1668.4 1872.1,1668.5 1875.0,1668.6 1877.9,1668.7 1880.7,1668.8 1883.6,1668.9 1886.5,1669.0 1889.4,1669.1 1892.3,1669.2 1895.2,1669.3 1898.1,1669.4 1901.0,1669.5 1903.9,1669.6 1906.8,1669.7 1909.7,1669.8 1912.6,1669.9 1915.5,1670.0 1918.3,1670.0 1921.2,1670.1 1924.1,1670.2 1927.0,1670.3 1929.9,1670.4 1932.8,1670.5 1935.7,1670.5 1938.6,1670.6 1941.5,1670.7 1944.4,1670.8 1947.3,1670.8 1950.2,1670.9 1953.1,1671.0 1956.0,1671.1 1958.8,1671.1 1961.7,1671.2 1964.6,1671.3 1967.5,1671.3 1970.4,1671.4 1973.3,1671.4 1976.2,1671.5 1979.1,1671.6 1982.0,1671.6 1984.9,1671.7 1987.8,1671.7 1990.7,1671.8 1993.6,1671.9 1996.5,1671.9 1999.3,1672.0 2002.2,1672.0 2005.1,1672.1 2008.0,1672.1 2010.9,1672.2 2013.8,1672.2 2016.7,1672.3 2019.6,1672.3 2022.5,1672.4 2025.4,1672.4 2028.3,1672.5 2031.2,1672.5 2034.1,1672.5 2037.0,1672.6 2039.8,1672.6 2042.7,1672.7 2045.6,1672.7 2048.5,1672.7 2051.4,1672.8 2054.3,1672.8 2057.2,1672.9 2060.1,1672.9 2063.0,1672.9 2065.9,1673.0 2068.8,1673.0 2071.7,1673.0 2074.6,1673.1 2077.4,1673.1 2080.3,1673.1 2083.2,1673.2 2086.1,1673.2 2089.0,1673.2 2091.9,1673.3 2094.8,1673.3 2097.7,1673.3 2100.6,1673.4 2103.5,1673.4 2106.4,1673.4 2109.3,1673.5 2112.2,1673.5 2115.1,1673.5 2117.9,1673.5 2120.8,1673.6 2123.7,1673.6 2126.6,1673.6 2129.5,1673.6 2132.4,1673.7 2135.3,1673.7 2138.2,1673.7 2141.1,1673.7 2144.0,1673.8 2146.9,1673.8 2149.8,1673.8 2152.7,1673.8 2155.6,1673.8 2158.4,1673.9 2161.3,1673.9 2164.2,1673.9 2167.1,1673.9 2170.0,1673.9 2172.9,1674.0 2175.8,1674.0 2178.7,1674.0 2181.6,1674.0 2184.5,1674.0 2187.4,1674.1 2190.3,1674.1 2193.2,1674.1 2196.0,1674.1 2198.9,1674.1 2201.8,1674.1 2204.7,1674.2 2207.6,1674.2 2210.5,1674.2 2213.4,1674.2 2216.3,1674.2 2219.2,1674.2 2222.1,1674.2 2225.0,1674.3 2227.9,1674.3 2230.8,1674.3 2233.7,1674.3 2236.5,1674.3 2239.4,1674.3 2242.3,1674.3 2245.2,1674.3 2248.1,1674.4 2251.0,1674.4 2253.9,1674.4 2256.8,1674.4 2259.7,1674.4 2262.6,1674.4 2265.5,1674.4 2268.4,1674.4 2271.3,1674.5 2274.2,1674.5 2277.0,1674.5 2279.9,1674.5 2282.8,1674.5 2285.7,1674.5 2288.6,1674.5 2291.5,1674.5 2294.4,1674.5 2297.3,1674.5 2300.2,1674.6 2303.1,1674.6 2306.0,1674.6 2308.9,1674.6 2311.8,1674.6 2314.7,1674.6 2317.5,1674.6 2320.4,1674.6 2323.3,1674.6 2326.2,1674.6 2329.1,1674.6 2332.0,1674.6 2334.9,1674.6 2337.8,1674.7 2340.7,1674.7 2343.6,1674.7 2346.5,1674.7 2349.4,1674.7 2352.3,1674.7 2355.1,1674.7 2358.0,1674.7 2360.9,1674.7 2363.8,1674.7 2366.7,1674.7 2369.6,1674.7 2372.5,1674.7 2375.4,1674.7 2378.3,1674.7 2381.2,1674.7 2384.1,1674.8 2387.0,1674.8 2389.9,1674.8 2392.8,1674.8 2395.6,1674.8 2398.5,1674.8 2401.4,1674.8 2404.3,1674.8 2407.2,1674.8 2410.1,1674.8 2413.0,1674.8 2415.9,1674.8 2418.8,1674.8 2421.7,1674.8 2424.6,1674.8 2427.5,1674.8 2430.4,1674.8 2433.3,1674.8 2436.1,1674.8 2439.0,1674.8 2441.9,1674.8 2444.8,1674.8 2447.7,1674.9 2450.6,1674.9 2453.5,1674.9"/>
<polyline points="431.5,664.8 434.4,665.2 437.3,665.6 440.2,666.0 443.1,666.4 446.0,666.8 448.9,667.3 451.7,667.7 454.6,668.2 457.5,668.6 460.4,669.1 463.3,669.6 466.2,670.0 469.1,670.5 472.0,671.0 474.9,671.5 477.8,672.0 480.7,672.6 483.6,673.1 486.5,673.6 489.4,674.2 492.2,674.7 495.1,675.3 498.0,675.9 500.9,676.5 503.8,677.1 506.7,677.7 509.6,678.3 512.5,678.9 515.4,679.5 518.3,680.2 521.2,680.8 524.1,681.5 527.0,682.2 529.9,682.9 532.7,683.5 535.6,684.3 538.5,685.0 541.4,685.7 544.3,686.4 547.2,687.2 550.1,688.0 553.0,688.7 555.9,689.5 558.8,690.3 561.7,691.1 564.6,692.0 567.5,692.8 570.3,693.7 573.2,694.5 576.1,695.4 579.0,696.3 581.9,697.2 584.8,698.1 587.7,699.1 590.6,700.0 593.5,701.0 596.4,702.0 599.3,703.0 602.2,704.0 605.1,705.0 608.0,706.1 610.8,707.1 613.7,708.2 616.6,709.3 619.5,710.4 622.4,711.5 625.3,712.7 628.2,713.8 631.1,715.0 634.0,716.2 636.9,717.4 639.8,718.6 642.7,719.9 645.6,721.1 648.5,722.4 651.3,723.7 654.2,725.0 657.1,726.4 660.0,727.7 662.9,729.1 665.8,730.5 668.7,731.9 671.6,733.4 674.5,734.8 677.4,736.3 680.3,737.8 683.2,739.3 686.1,740.9 689.0,742.5 691.8,744.0 694.7,745.7 697.6,747.3 700.5,748.9 703.4,750.6 706.3,752.3 709.2,754.0 712.1,755.8 715.0,757.6 717.9,759.4 720.8,761.2 723.7,763.0 726.6,764.9 729.4,766.8 732.3,768.7 735.2,770.7 738.1,772.6 741.0,774.6 743.9,776.6 746.8,778.7 749.7,780.8 752.6,782.9 755.5,785.0 758.4,787.1 761.3,789.3 764.2,791.5 767.1,793.7 769.9,796.0 772.8,798.3 775.7,800.6 778.6,803.0 781.5,805.3 784.4,807.7 787.3,810.2 790.2,812.6 793.1,815.1 796.0,817.6 798.9,820.1 801.8,822.7 804.7,825.3 807.6,827.9 810.4,830.6 813.3,833.3 816.2,836.0 819.1,838.7 822.0,841.5 824.9,844.3 827.8,847.2 830.7,850.0 833.6,852.9 836.5,855.8 839.4,858.8 842.3,861.8 845.2,864.8 848.0,867.8 850.9,870.9 853.8,874.0 856.7,877.1 859.6,880.3 862.5,883.5 865.4,886.7 868.3,889.9 871.2,893.2 874.1,896.5 877.0,899.9 879.9,903.2 882.8,906.6 885.7,910.0 888.5,913.5 891.4,917.0 894.3,920.5 897.2,924.0 900.1,927.6 903.0,931.2 905.9,934.8 908.8,938.4 911.7,942.1 914.6,945.8 917.5,949.5 920.4,953.3 923.3,957.0 926.2,960.8 929.0,964.7 931.9,968.5 934.8,972.4 937.7,976.3 940.6,980.2 943.5,984.1 946.4,988.1 949.3,992.1 952.2,996.1 955.1,1000.2 958.0,1004.2 960.9,1008.3 963.8,1012.4 966.7,1016.5 969.5,1020.6 972.4,1024.8 975.3,1029.0 978.2,1033.2 981.1,1037.4 984.0,1041.6 986.9,1045.8 989.8,1050.1 992.7,1054.4 995.6,1058.7 998.5,1063.0 1001.4,1067.3 1004.3,1071.6 1007.1,1076.0 1010.0,1080.3 1012.9,1084.7 1015.8,1089.1 1018.7,1093.4 1021.6,1097.8 1024.5,1102.2 1027.4,1106.7 1030.3,1111.1 1033.2,1115.5 1036.1,1119.9 1039.0,1124.4 1041.9,1128.8 1044.8,1133.3 1047.6,1137.7 1050.5,1142.2 1053.4,1146.6 1056.3,1151.1 1059.2,1155.5 1062.1,1160.0 1065.0,1164.5 1067.9,1168.9 1070.8,1173.4 1073.7,1177.8 1076.6,1182.3 1079.5,1186.7 1082.4,1191.2 1085.3,1195.6 1088.1,1200.0 1091.0,1204.5 1093.9,1208.9 1096.8,1213.3 1099.7,1217.7 1102.6,1222.1 1105.5,1226.5 1108.4,1230.9 1111.3,1235.2 1114.2,1239.6 1117.1,1243.9 1120.0,1248.2 1122.9,1252.6 1125.7,1256.9 1128.6,1261.1 1131.5,1265.4 1134.4,1269.7 1137.3,1273.9 1140.2,1278.1 1143.1,1282.4 1146.0,1286.5 1148.9,1290.7 1151.8,1294.9 1154.7,1299.0 1157.6,1303.1 1160.5,1307.2 1163.4,1311.3 1166.2,1315.3 1169.1,1319.4 1172.0,1323.4 1174.9,1327.4 1177.8,1331.3 1180.7,1335.3 1183.6,1339.2 1186.5,1343.1 1189.4,1347.0 1192.3,1350.8 1195.2,1354.6 1198.1,1358.4 1201.0,1362.2 1203.9,1365.9 1206.7,1369.7 1209.6,1373.4 1212.5,1377.0 1215.4,1380.7 1218.3,1384.3 1221.2,1387.9 1224.1,1391.4 1227.0,1394.9 1229.9,1398.4 1232.8,1401.9 1235.7,1405.4 1238.6,1408.8 1241.5,1412.2 1244.3,1415.5 1247.2,1418.9 1250.1,1422.2 1253.0,1425.4 1255.9,1428.7 1258.8,1431.9 1261.7,1435.1 1264.6,1438.2 1267.5,1441.4 1270.4,1444.5 1273.3,1447.5 1276.2,1450.6 1279.1,1453.6 1282.0,1456.5 1284.8,1459.5 1287.7,1462.4 1290.6,1465.3 1293.5,1468.2 1296.4,1471.0 1299.3,1473.8 1302.2,1476.6 1305.1,1479.3 1308.0,1482.0 1310.9,1484.7 1313.8,1487.4 1316.7,1490.0 1319.6,1492.6 1322.5,1495.1 1325.3,1497.7 1328.2,1500.2 1331.1,1502.7 1334.0,1505.1 1336.9,1507.5 1339.8,1509.9 1342.7,1512.3 1345.6,1514.6 1348.5,1516.9 1351.4,1519.2 1354.3,1521.5 1357.2,1523.7 1360.1,1525.9 1363.0,1528.1 1365.8,1530.2 1368.7,1532.4 1371.6,1534.5 1374.5,1536.5 1377.4,1538.6 1380.3,1540.6 1383.2,1542.6 1386.1,1544.5 1389.0,1546.5 1391.9,1548.4 1394.8,1550.3 1397.7,1552.2 1400.6,1554.0 1403.4,1555.8 1406.3,1557.6 1409.2,1559.4 1412.1,1561.1 1415.0,1562.8 1417.9,1564.5 1420.8,1566.2 1423.7,1567.9 1426.6,1569.5 1429.5,1571.1 1432.4,1572.7 1435.3,1574.3 1438.2,1575.8 1441.1,1577.3 1443.9,1578.8 1446.8,1580.3 1449.7,1581.8 1452.6,1583.2 1455.5,1584.6 1458.4,1586.0 1461.3,1587.4 1464.2,1588.7 1467.1,1590.1 1470.0,1591.4 1472.9,1592.7 1475.8,1594.0 1478.7,1595.2 1481.6,1596.5 1484.4,1597.7 1487.3,1598.9 1490.2,1600.1 1493.1,1601.3 1496.0,1602.4 1498.9,1603.6 1501.8,1604.7 1504.7,1605.8 1507.6,1606.9 1510.5,1608.0 1513.4,1609.0 1516.3,1610.1 1519.2,1611.1 1522.0,1612.1 1524.9,1613.1 1527.8,1614.1 1530.7,1615.0 1533.6,1616.0 1536.5,1616.9 1539.4,1617.8 1542.3,1618.7 1545.2,1619.6 1548.1,1620.5 1551.0,1621.4 1553.9,1622.2 1556.8,1623.1 1559.7,1623.9 1562.5,1624.7 1565.4,1625.5 1568.3,1626.3 1571.2,1627.1 1574.1,1627.8 1577.0,1628.6 1579.9,1629.3 1582.8,1630.1 1585.7,1630.8 1588.6,1631.5 1591.5,1632.2 1594.4,1632.9 1597.3,1633.5 1600.2,1634.2 1603.0,1634.8 1605.9,1635.5 1608.8,1636.1 1611.7,1636.7 1614.6,1637.3 1617.5,1637.9 1620.4,1638.5 1623.3,1639.1 1626.2,1639.7 1629.1,1640.3 1632.0,1640.8 1634.9,1641.4 1637.8,1641.9 1640.7,1642.4 1643.5,1642.9 1646.4,1643.5 1649.3,1644.0 1652.2,1644.5 1655.1,1644.9 1658.0,1645.4 1660.9,1645.9 1663.8,1646.4 1666.7,1646.8 1669.6,1647.3 1672.5,1647.7 1675.4,1648.1 1678.3,1648.6 1681.1,1649.0 1684.0,1649.4 1686.9,1649.8 1689.8,1650.2 1692.7,1650.6 1695.6,1651.0 1698.5,1651.4 1701.4,1651.7 1704.3,1652.1 1707.2,1652.5 1710.1,1652.8 1713.0,1653.2 1715.9,1653.5 1718.8,1653.9 1721.6,1654.2 1724.5,1654.5 1727.4,1654.9 1730.3,1655.2 1733.2,1655.5 1736.1,1655.8 1739.0,1656.1 1741.9,1656.4 1744.8,1656.7 1747.7,1657.0 1750.6,1657.3 1753.5,1657.5 1756.4,1657.8 1759.3,1658.1 1762.1,1658.3 1765.0,1658.6 1767.9,1658.9 1770.8,1659.1 1773.7,1659.4 1776.6,1659.6 1779.5,1659.8 1782.4,1660.1 1785.3,1660.3 1788.2,1660.5 1791.1,1660.7 1794.0,1661.0 1796.9,1661.2 1799.7,1661.4 1802.6,1661.6 1805.5,1661.8 1808.4,1662.0 1811.3,1662.2 1814.2,1662.4 1817.1,1662.6 1820.0,1662.8 1822.9,1663.0 1825.8,1663.2 1828.7,1663.3 1831.6,1663.5 1834.5,1663.7 1837.4,1663.9 1840.2,1664.0 1843.1,1664.2 1846.0,1664.3 1848.9,1664.5 1851.8,1664.7 1854.7,1664.8 1857.6,1665.0 1860.5,1665.1 1863.4,1665.3 1866.3,1665.4 1869.2,1665.6 1872.1,1665.7 1875.0,1665.8 1877.9,1666.0 1880.7,1666.1 1883.6,1666.2 1886.5,1666.4 1889.4,1666.5 1892.3,1666.6 1895.2,1666.7 1898.1,1666.8 1901.0,1667.0 1903.9,1667.1 1906.8,1667.2 1909.7,1667.3 1912.6,1667.4 1915.5,1667.5 1918.3,1667.6 1921.2,1667.7 1924.1,1667.8 1927.0,1667.9 1929.9,1668.0 1932.8,1668.1 1935.7,1668.2 1938.6,1668.3 1941.5,1668.4 1944.4,1668.5 1947.3,1668.6 1950.2,1668.7 1953.1,1668.8 1956.0,1668.8 1958.8,1668.9 1961.7,1669.0 1964.6,1669.1 1967.5,1669.2 1970.4,1669.2 1973.3,1669.3 1976.2,1669.4 1979.1,1669.5 1982.0,1669.5 1984.9,1669.6 1987.8,1669.7 1990.7,1669.8 1993.6,1669.8 1996.5,1669.9 1999.3,1670.0 2002.2,1670.0 2005.1,1670.1 2008.0,1670.1 2010.9,1670.2 2013.8,1670.3 2016.7,1670.3 2019.6,1670.4 2022.5,1670.4 2025.4,1670.5 2028.3,1670.6 2031.2,1670.6 2034.1,1670.7 2037.0,1670.7 2039.8,1670.8 2042.7,1670.8 2045.6,1670.9 2048.5,1670.9 2051.4,1671.0 2054.3,1671.0 2057.2,1671.1 2060.1,1671.1 2063.0,1671.1 2065.9,1671.2 2068.8,1671.2 2071.7,1671.3 2074.6,1671.3 2077.4,1671.4 2080.3,1671.4 2083.2,1671.4 2086.1,1671.5 2089.0,1671.5 2091.9,1671.6 2094.8,1671.6 2097.7,1671.6 2100.6,1671.7 2103.5,1671.7 2106.4,1671.7 2109.3,1671.8 2112.2,1671.8 2115.1,1671.8 2117.9,1671.9 2120.8,1671.9 2123.7,1671.9 2126.6,1672.0 2129.5,1672.0 2132.4,1672.0 2135.3,1672.1 2138.2,1672.1 2141.1,1672.1 2144.0,1672.1 2146.9,1672.2 2149.8,1672.2 2152.7,1672.2 2155.6,1672.2 2158.4,1672.3 2161.3,1672.3 2164.2,1672.3 2167.1,1672.3 2170.0,1672.4 2172.9,1672.4 2175.8,1672.4 2178.7,1672.4 2181.6,1672.5 2184.5,1672.5 2187.4,1672.5 2190.3,1672.5 2193.2,1672.5 2196.0,1672.6 2198.9,1672.6 2201.8,1672.6 2204.7,1672.6 2207.6,1672.6 2210.5,1672.7 2213.4,1672.7 2216.3,1672.7 2219.2,1672.7 2222.1,1672.7 2225.0,1672.7 2227.9,1672.8 2230.8,1672.8 2233.7,1672.8 2236.5,1672.8 2239.4,1672.8 2242.3,1672.8 2245.2,1672.9 2248.1,1672.9 2251.0,1672.9 2253.9,1672.9 2256.8,1672.9 2259.7,1672.9 2262.6,1672.9 2265.5,1673.0 2268.4,1673.0 2271.3,1673.0 2274.2,1673.0 2277.0,1673.0 2279.9,1673.0 2282.8,1673.0 2285.7,1673.0 2288.6,1673.1 2291.5,1673.1 2294.4,1673.1 2297.3,1673.1 2300.2,1673.1 2303.1,1673.1 2306.0,1673.1 2308.9,1673.1 2311.8,1673.1 2314.7,1673.2 2317.5,1673.2 2320.4,1673.2 2323.3,1673.2 2326.2,1673.2 2329.1,1673.2 2332.0,1673.2 2334.9,1673.2 2337.8,1673.2 2340.7,1673.2 2343.6,1673.2 2346.5,1673.3 2349.4,1673.3 2352.3,1673.3 2355.1,1673.3 2358.0,1673.3 2360.9,1673.3 2363.8,1673.3 2366.7,1673.3 2369.6,1673.3 2372.5,1673.3 2375.4,1673.3 2378.3,1673.3 2381.2,1673.3 2384.1,1673.4 2387.0,1673.4 2389.9,1673.4 2392.8,1673.4 2395.6,1673.4 2398.5,1673.4 2401.4,1673.4 2404.3,1673.4 2407.2,1673.4 2410.1,1673.4 2413.0,1673.4 2415.9,1673.4 2418.8,1673.4 2421.7,1673.4 2424.6,1673.4 2427.5,1673.4 2430.4,1673.4 2433.3,1673.4 2436.1,1673.5 2439.0,1673.5 2441.9,1673.5 2444.8,1673.5 2447.7,1673.5 2450.6,1673.5 2453.5,1673.5"/>
<polyline points="431.5,582.5 434.4,583.2 437.3,583.8 440.2,584.5 443.1,585.3 446.0,586.0 448.9,586.7 451.7,587.5 454.6,588.2 457.5,589.0 460.4,589.8 463.3,590.6 466.2,591.4 469.1,592.2 472.0,593.0 474.9,593.9 477.8,594.7 480.7,595.6 483.6,596.5 486.5,597.4 489.4,598.3 492.2,599.2 495.1,600.2 498.0,601.1 500.9,602.1 503.8,603.1 506.7,604.1 509.6,605.1 512.5,606.2 515.4,607.2 518.3,608.3 521.2,609.4 524.1,610.5 527.0,611.6 529.9,612.7 532.7,613.9 535.6,615.1 538.5,616.2 541.4,617.4 544.3,618.7 547.2,619.9 550.1,621.2 553.0,622.5 555.9,623.8 558.8,625.1 561.7,626.4 564.6,627.8 567.5,629.1 570.3,630.5 573.2,632.0 576.1,633.4 579.0,634.9 581.9,636.3 584.8,637.8 587.7,639.4 590.6,640.9 593.5,642.5 596.4,644.1 599.3,645.7 602.2,647.3 605.1,649.0 608.0,650.7 610.8,652.4 613.7,654.1 616.6,655.9 619.5,657.6 622.4,659.5 625.3,661.3 628.2,663.1 631.1,665.0 634.0,666.9 636.9,668.9 639.8,670.8 642.7,672.8 645.6,674.8 648.5,676.8 651.3,678.9 654.2,681.0 657.1,683.1 660.0,685.3 662.9,687.4 665.8,689.6 668.7,691.9 671.6,694.1 674.5,696.4 677.4,698.7 680.3,701.1 683.2,703.5 686.1,705.9 689.0,708.3 691.8,710.8 694.7,713.3 697.6,715.8 700.5,718.3 703.4,720.9 706.3,723.5 709.2,726.2 712.1,728.9 715.0,731.6 717.9,734.3 720.8,737.1 723.7,739.9 726.6,742.7 729.4,745.6 732.3,748.5 735.2,751.4 738.1,754.4 741.0,757.4 743.9,760.4 746.8,763.5 749.7,766.6 752.6,769.7 755.5,772.8 758.4,776.0 761.3,779.3 764.2,782.5 767.1,785.8 769.9,789.1 772.8,792.5 775.7,795.9 778.6,799.3 781.5,802.7 784.4,806.2 787.3,809.7 790.2,813.3 793.1,816.8 796.0,820.4 798.9,824.1 801.8,827.8 804.7,831.5 807.6,835.2 810.4,839.0 813.3,842.8 816.2,846.6 819.1,850.5 822.0,854.4 824.9,858.3 827.8,862.2 830.7,866.2 833.6,870.2 836.5,874.3 839.4,878.3 842.3,882.4 845.2,886.5 848.0,890.7 850.9,894.9 853.8,899.1 856.7,903.3 859.6,907.6 862.5,911.9 865.4,916.2 868.3,920.5 871.2,924.9 874.1,929.3 877.0,933.7 879.9,938.1 882.8,942.6 885.7,947.1 888.5,951.6 891.4,956.1 894.3,960.6 897.2,965.2 900.1,969.8 903.0,974.4 905.9,979.0 908.8,983.7 911.7,988.3 914.6,993.0 917.5,997.7 920.4,1002.4 923.3,1007.1 926.2,1011.9 929.0,1016.6 931.9,1021.4 934.8,1026.2 937.7,1031.0 940.6,1035.8 943.5,1040.6 946.4,1045.4 949.3,1050.3 952.2,1055.1 955.1,1059.9 958.0,1064.8 960.9,1069.7 963.8,1074.5 966.7,1079.4 969.5,1084.3 972.4,1089.2 975.3,1094.1 978.2,1098.9 981.1,1103.8 984.0,1108.7 986.9,1113.6 989.8,1118.5 992.7,1123.4 995.6,1128.3 998.5,1133.1 1001.4,1138.0 1004.3,1142.9 1007.1,1147.8 1010.0,1152.6 1012.9,1157.5 1015.8,1162.3 1018.7,1167.2 1021.6,1172.0 1024.5,1176.8 1027.4,1181.6 1030.3,1186.4 1033.2,1191.2 1036.1,1196.0 1039.0,1200.7 1041.9,1205.5 1044.8,1210.2 1047.6,1215.0 1050.5,1219.7 1053.4,1224.4 1056.3,1229.0 1059.2,1233.7 1062.1,1238.3 1065.0,1242.9 1067.9,1247.5 1070.8,1252.1 1073.7,1256.7 1076.6,1261.2 1079.5,1265.7 1082.4,1270.2 1085.3,1274.7 1088.1,1279.2 1091.0,1283.6 1093.9,1288.0 1096.8,1292.4 1099.7,1296.7 1102.6,1301.1 1105.5,1305.4 1108.4,1309.7 1111.3,1313.9 1114.2,1318.1 1117.1,1322.3 1120.0,1326.5 1122.9,1330.7 1125.7,1334.8 1128.6,1338.9 1131.5,1342.9 1134.4,1347.0 1137.3,1351.0 1140.2,1354.9 1143.1,1358.9 1146.0,1362.8 1148.9,1366.7 1151.8,1370.5 1154.7,1374.3 1157.6,1378.1 1160.5,1381.9 1163.4,1385.6 1166.2,1389.3 1169.1,1393.0 1172.0,1396.6 1174.9,1400.2 1177.8,1403.8 1180.7,1407.3 1183.6,1410.8 1186.5,1414.3 1189.4,1417.7 1192.3,1421.1 1195.2,1424.5 1198.1,1427.9 1201.0,1431.2 1203.9,1434.5 1206.7,1437.7 1209.6,1440.9 1212.5,1444.1 1215.4,1447.2 1218.3,1450.4 1221.2,1453.4 1224.1,1456.5 1227.0,1459.5 1229.9,1462.5 1232.8,1465.4 1235.7,1468.4 1238.6,1471.3 1241.5,1474.1 1244.3,1476.9 1247.2,1479.7 1250.1,1482.5 1253.0,1485.2 1255.9,1487.9 1258.8,1490.6 1261.7,1493.2 1264.6,1495.9 1267.5,1498.4 1270.4,1501.0 1273.3,1503.5 1276.2,1506.0 1279.1,1508.4 1282.0,1510.9 1284.8,1513.3 1287.7,1515.6 1290.6,1518.0 1293.5,1520.3 1296.4,1522.5 1299.3,1524.8 1302.2,1527.0 1305.1,1529.2 1308.0,1531.4 1310.9,1533.5 1313.8,1535.6 1316.7,1537.7 1319.6,1539.8 1322.5,1541.8 1325.3,1543.8 1328.2,1545.8 1331.1,1547.7 1334.0,1549.7 1336.9,1551.5 1339.8,1553.4 1342.7,1555.3 1345.6,1557.1 1348.5,1558.9 1351.4,1560.7 1354.3,1562.4 1357.2,1564.1 1360.1,1565.8 1363.0,1567.5 1365.8,1569.2 1368.7,1570.8 1371.6,1572.4 1374.5,1574.0 1377.4,1575.6 1380.3,1577.1 1383.2,1578.6 1386.1,1580.1 1389.0,1581.6 1391.9,1583.0 1394.8,1584.5 1397.7,1585.9 1400.6,1587.3 1403.4,1588.6 1406.3,1590.0 1409.2,1591.3 1412.1,1592.6 1415.0,1593.9 1417.9,1595.2 1420.8,1596.5 1423.7,1597.7 1426.6,1598.9 1429.5,1600.1 1432.4,1601.3 1435.3,1602.5 1438.2,1603.6 1441.1,1604.8 1443.9,1605.9 1446.8,1607.0 1449.7,1608.0 1452.6,1609.1 1455.5,1610.2 1458.4,1611.2 1461.3,1612.2 1464.2,1613.2 1467.1,1614.2 1470.0,1615.2 1472.9,1616.1 1475.8,1617.0 1478.7,1618.0 1481.6,1618.9 1484.4,1619.8 1487.3,1620.7 1490.2,1621.5 1493.1,1622.4 1496.0,1623.2 1498.9,1624.1 1501.8,1624.9 1504.7,1625.7 1507.6,1626.5 1510.5,1627.3 1513.4,1628.0 1516.3,1628.8 1519.2,1629.5 1522.0,1630.2 1524.9,1631.0 1527.8,1631.7 1530.7,1632.4 1533.6,1633.1 1536.5,1633.7 1539.4,1634.4 1542.3,1635.1 1545.2,1635.7 1548.1,1636.3 1551.0,1636.9 1553.9,1637.6 1556.8,1638.2 1559.7,1638.8 1562.5,1639.3 1565.4,1639.9 1568.3,1640.5 1571.2,1641.0 1574.1,1641.6 1577.0,1642.1 1579.9,1642.7 1582.8,1643.2 1585.7,1643.7 1588.6,1644.2 1591.5,1644.7 1594.4,1645.2 1597.3,1645.7 1600.2,1646.1 1603.0,1646.6 1605.9,1647.0 1608.8,1647.5 1611.7,1647.9 1614.6,1648.4 1617.5,1648.8 1620.4,1649.2 1623.3,1649.6 1626.2,1650.0 1629.1,1650.4 1632.0,1650.8 1634.9,1651.2 1637.8,1651.6 1640.7,1652.0 1643.5,1652.3 1646.4,1652.7 1649.3,1653.1 1652.2,1653.4 1655.1,1653.8 1658.0,1654.1 1660.9,1654.4 1663.8,1654.8 1666.7,1655.1 1669.6,1655.4 1672.5,1655.7 1675.4,1656.0 1678.3,1656.3 1681.1,1656.6 1684.0,1656.9 1686.9,1657.2 1689.8,1657.5 1692.7,1657.8 1695.6,1658.0 1698.5,1658.3 1701.4,1658.6 1704.3,1658.8 1707.2,1659.1 1710.1,1659.3 1713.0,1659.6 1715.9,1659.8 1718.8,1660.1 1721.6,1660.3 1724.5,1660.5 1727.4,1660.7 1730.3,1661.0 1733.2,1661.2 1736.1,1661.4 1739.0,1661.6 1741.9,1661.8 1744.8,1662.0 1747.7,1662.2 1750.6,1662.4 1753.5,1662.6 1756.4,1662.8 1759.3,1663.0 1762.1,1663.2 1765.0,1663.4 1767.9,1663.5 1770.8,1663.7 1773.7,1663.9 1776.6,1664.1 1779.5,1664.2 1782.4,1664.4 1785.3,1664.6 1788.2,1664.7 1791.1,1664.9 1794.0,1665.0 1796.9,1665.2 1799.7,1665.3 1802.6,1665.5 1805.5,1665.6 1808.4,1665.8 1811.3,1665.9 1814.2,1666.0 1817.1,1666.2 1820.0,1666.3 1822.9,1666.4 1825.8,1666.6 1828.7,1666.7 1831.6,1666.8 1834.5,1666.9 1837.4,1667.0 1840.2,1667.2 1843.1,1667.3 1846.0,1667.4 1848.9,1667.5 1851.8,1667.6 1854.7,1667.7 1857.6,1667.8 1860.5,1667.9 1863.4,1668.0 1866.3,1668.1 1869.2,1668.2 1872.1,1668.3 1875.0,1668.4 1877.9,1668.5 1880.7,1668.6 1883.6,1668.7 1886.5,1668.8 1889.4,1668.9 1892.3,1669.0 1895.2,1669.0 1898.1,1669.1 1901.0,1669.2 1903.9,1669.3 1906.8,1669.4 1909.7,1669.4 1912.6,1669.5 1915.5,1669.6 1918.3,1669.7 1921.2,1669.7 1924.1,1669.8 1927.0,1669.9 1929.9,1669.9 1932.8,1670.0 1935.7,1670.1 1938.6,1670.1 1941.5,1670.2 1944.4,1670.3 1947.3,1670.3 1950.2,1670.4 1953.1,1670.5 1956.0,1670.5 1958.8,1670.6 1961.7,1670.6 1964.6,1670.7 1967.5,1670.7 1970.4,1670.8 1973.3,1670.8 1976.2,1670.9 1979.1,1670.9 1982.0,1671.0 1984.9,1671.0 1987.8,1671.1 1990.7,1671.1 1993.6,1671.2 1996.5,1671.2 1999.3,1671.3 2002.2,1671.3 2005.1,1671.4 2008.0,1671.4 2010.9,1671.5 2013.8,1671.5 2016.7,1671.5 2019.6,1671.6 2022.5,1671.6 2025.4,1671.7 2028.3,1671.7 2031.2,1671.7 2034.1,1671.8 2037.0,1671.8 2039.8,1671.8 2042.7,1671.9 2045.6,1671.9 2048.5,1672.0 2051.4,1672.0 2054.3,1672.0 2057.2,1672.0 2060.1,1672.1 2063.0,1672.1 2065.9,1672.1 2068.8,1672.2 2071.7,1672.2 2074.6,1672.2 2077.4,1672.3 2080.3,1672.3 2083.2,1672.3 2086.1,1672.3 2089.0,1672.4 2091.9,1672.4 2094.8,1672.4 2097.7,1672.4 2100.6,1672.5 2103.5,1672.5 2106.4,1672.5 2109.3,1672.5 2112.2,1672.6 2115.1,1672.6 2117.9,1672.6 2120.8,1672.6 2123.7,1672.7 2126.6,1672.7 2129.5,1672.7 2132.4,1672.7 2135.3,1672.7 2138.2,1672.8 2141.1,1672.8 2144.0,1672.8 2146.9,1672.8 2149.8,1672.8 2152.7,1672.9 2155.6,1672.9 2158.4,1672.9 2161.3,1672.9 2164.2,1672.9 2167.1,1672.9 2170.0,1673.0 2172.9,1673.0 2175.8,1673.0 2178.7,1673.0 2181.6,1673.0 2184.5,1673.0 2187.4,1673.1 2190.3,1673.1 2193.2,1673.1 2196.0,1673.1 2198.9,1673.1 2201.8,1673.1 2204.7,1673.1 2207.6,1673.1 2210.5,1673.2 2213.4,1673.2 2216.3,1673.2 2219.2,1673.2 2222.1,1673.2 2225.0,1673.2 2227.9,1673.2 2230.8,1673.2 2233.7,1673.3 2236.5,1673.3 2239.4,1673.3 2242.3,1673.3 2245.2,1673.3 2248.1,1673.3 2251.0,1673.3 2253.9,1673.3 2256.8,1673.3 2259.7,1673.3 2262.6,1673.4 2265.5,1673.4 2268.4,1673.4 2271.3,1673.4 2274.2,1673.4 2277.0,1673.4 2279.9,1673.4 2282.8,1673.4 2285.7,1673.4 2288.6,1673.4 2291.5,1673.4 2294.4,1673.5 2297.3,1673.5 2300.2,1673.5 2303.1,1673.5 2306.0,1673.5 2308.9,1673.5 2311.8,1673.5 2314.7,1673.5 2317.5,1673.5 2320.4,1673.5 2323.3,1673.5 2326.2,1673.5 2329.1,1673.5 2332.0,1673.5 2334.9,1673.6 2337.8,1673.6 2340.7,1673.6 2343.6,1673.6 2346.5,1673.6 2349.4,1673.6 2352.3,1673.6 2355.1,1673.6 2358.0,1673.6 2360.9,1673.6 2363.8,1673.6 2366.7,1673.6 2369.6,1673.6 2372.5,1673.6 2375.4,1673.6 2378.3,1673.6 2381.2,1673.6 2384.1,1673.6 2387.0,1673.6 2389.9,1673.6 2392.8,1673.7 2395.6,1673.7 2398.5,1673.7 2401.4,1673.7 2404.3,1673.7 2407.2,1673.7 2410.1,1673.7 2413.0,1673.7 2415.9,1673.7 2418.8,1673.7 2421.7,1673.7 2424.6,1673.7 2427.5,1673.7 2430.4,1673.7 2433.3,1673.7 2436.1,1673.7 2439.0,1673.7 2441.9,1673.7 2444.8,1673.7 2447.7,1673.7 2450.6,1673.7 2453.5,1673.7"/>
<polyline points="431.5,336.9 434.4,338.1 437.3,339.3 440.2,340.5 443.1,341.8 446.0,343.0 448.9,344.3 451.7,345.6 454.6,346.9 457.5,348.3 460.4,349.6 463.3,351.0 466.2,352.4 469.1,353.8 472.0,355.3 474.9,356.7 477.8,358.2 480.7,359.7 483.6,361.3 486.5,362.8 489.4,364.4 492.2,366.0 495.1,367.6 498.0,369.3 500.9,371.0 503.8,372.7 506.7,374.4 509.6,376.1 512.5,377.9 515.4,379.7 518.3,381.5 521.2,383.4 524.1,385.3 527.0,387.2 529.9,389.1 532.7,391.1 535.6,393.1 538.5,395.1 541.4,397.2 544.3,399.2 547.2,401.3 550.1,403.5 553.0,405.6 555.9,407.8 558.8,410.1 561.7,412.3 564.6,414.6 567.5,416.9 570.3,419.3 573.2,421.7 576.1,424.1 579.0,426.5 581.9,429.0 584.8,431.5 587.7,434.1 590.6,436.7 593.5,439.3 596.4,442.0 599.3,444.6 602.2,447.4 605.1,450.1 608.0,452.9 610.8,455.7 613.7,458.6 616.6,461.5 619.5,464.4 622.4,467.4 625.3,470.4 628.2,473.5 631.1,476.5 634.0,479.7 636.9,482.8 639.8,486.0 642.7,489.2 645.6,492.5 648.5,495.8 651.3,499.2 654.2,502.6 657.1,506.0 660.0,509.5 662.9,513.0 665.8,516.5 668.7,520.1 671.6,523.7 674.5,527.4 677.4,531.1 680.3,534.8 683.2,538.6 686.1,542.5 689.0,546.3 691.8,550.2 694.7,554.2 697.6,558.2 700.5,562.2 703.4,566.3 706.3,570.4 709.2,574.5 712.1,578.7 715.0,582.9 717.9,587.2 720.8,591.5 723.7,595.9 726.6,600.3 729.4,604.7 732.3,609.2 735.2,613.7 738.1,618.2 741.0,622.8 743.9,627.4 746.8,632.1 749.7,636.8 752.6,641.5 755.5,646.3 758.4,651.1 761.3,656.0 764.2,660.9 767.1,665.8 769.9,670.8 772.8,675.8 775.7,680.9 778.6,685.9 781.5,691.0 784.4,696.2 787.3,701.4 790.2,706.6 793.1,711.8 796.0,717.1 798.9,722.5 801.8,727.8 804.7,733.2 807.6,738.6 810.4,744.0 813.3,749.5 816.2,755.0 819.1,760.5 822.0,766.1 824.9,771.7 827.8,777.3 830.7,783.0 833.6,788.6 836.5,794.3 839.4,800.0 842.3,805.8 845.2,811.5 848.0,817.3 850.9,823.1 853.8,829.0 856.7,834.8 859.6,840.7 862.5,846.6 865.4,852.5 868.3,858.4 871.2,864.3 874.1,870.3 877.0,876.3 879.9,882.2 882.8,888.2 885.7,894.2 888.5,900.3 891.4,906.3 894.3,912.3 897.2,918.4 900.1,924.4 903.0,930.5 905.9,936.6 908.8,942.6 911.7,948.7 914.6,954.8 917.5,960.9 920.4,966.9 923.3,973.0 926.2,979.1 929.0,985.2 931.9,991.3 934.8,997.3 937.7,1003.4 940.6,1009.5 943.5,1015.5 946.4,1021.6 949.3,1027.6 952.2,1033.7 955.1,1039.7 958.0,1045.7 960.9,1051.7 963.8,1057.7 966.7,1063.7 969.5,1069.6 972.4,1075.6 975.3,1081.5 978.2,1087.4 981.1,1093.4 984.0,1099.2 986.9,1105.1 989.8,1110.9 992.7,1116.8 995.6,1122.6 998.5,1128.4 1001.4,1134.1 1004.3,1139.9 1007.1,1145.6 1010.0,1151.3 1012.9,1156.9 1015.8,1162.6 1018.7,1168.2 1021.6,1173.8 1024.5,1179.3 1027.4,1184.8 1030.3,1190.3 1033.2,1195.8 1036.1,1201.2 1039.0,1206.6 1041.9,1212.0 1044.8,1217.4 1047.6,1222.7 1050.5,1227.9 1053.4,1233.2 1056.3,1238.4 1059.2,1243.6 1062.1,1248.7 1065.0,1253.8 1067.9,1258.9 1070.8,1263.9 1073.7,1268.9 1076.6,1273.9 1079.5,1278.8 1082.4,1283.7 1085.3,1288.6 1088.1,1293.4 1091.0,1298.1 1093.9,1302.9 1096.8,1307.6 1099.7,1312.2 1102.6,1316.9 1105.5,1321.4 1108.4,1326.0 1111.3,1330.5 1114.2,1334.9 1117.1,1339.4 1120.0,1343.7 1122.9,1348.1 1125.7,1352.4 1128.6,1356.7 1131.5,1360.9 1134.4,1365.1 1137.3,1369.2 1140.2,1373.3 1143.1,1377.4 1146.0,1381.4 1148.9,1385.4 1151.8,1389.3 1154.7,1393.2 1157.6,1397.0 1160.5,1400.9 1163.4,1404.6 1166.2,1408.4 1169.1,1412.1 1172.0,1415.7 1174.9,1419.3 1177.8,1422.9 1180.7,1426.5 1183.6,1430.0 1186.5,1433.4 1189.4,1436.8 1192.3,1440.2 1195.2,1443.6 1198.1,1446.9 1201.0,1450.1 1203.9,1453.4 1206.7,1456.5 1209.6,1459.7 1212.5,1462.8 1215.4,1465.9 1218.3,1468.9 1221.2,1471.9 1224.1,1474.9 1227.0,1477.8 1229.9,1480.7 1232.8,1483.6 1235.7,1486.4 1238.6,1489.2 1241.5,1491.9 1244.3,1494.6 1247.2,1497.3 1250.1,1500.0 1253.0,1502.6 1255.9,1505.1 1258.8,1507.7 1261.7,1510.2 1264.6,1512.7 1267.5,1515.1 1270.4,1517.5 1273.3,1519.9 1276.2,1522.2 1279.1,1524.6 1282.0,1526.8 1284.8,1529.1 1287.7,1531.3 1290.6,1533.5 1293.5,1535.7 1296.4,1537.8 1299.3,1539.9 1302.2,1542.0 1305.1,1544.0 1308.0,1546.0 1310.9,1548.0 1313.8,1550.0 1316.7,1551.9 1319.6,1553.8 1322.5,1555.7 1325.3,1557.6 1328.2,1559.4 1331.1,1561.2 1334.0,1562.9 1336.9,1564.7 1339.8,1566.4 1342.7,1568.1 1345.6,1569.8 1348.5,1571.4 1351.4,1573.0 1354.3,1574.6 1357.2,1576.2 1360.1,1577.8 1363.0,1579.3 1365.8,1580.8 1368.7,1582.3 1371.6,1583.7 1374.5,1585.2 1377.4,1586.6 1380.3,1588.0 1383.2,1589.4 1386.1,1590.7 1389.0,1592.1 1391.9,1593.4 1394.8,1594.7 1397.7,1595.9 1400.6,1597.2 1403.4,1598.4 1406.3,1599.7 1409.2,1600.9 1412.1,1602.0 1415.0,1603.2 1417.9,1604.3 1420.8,1605.5 1423.7,1606.6 1426.6,1607.7 1429.5,1608.7 1432.4,1609.8 1435.3,1610.8 1438.2,1611.9 1441.1,1612.9 1443.9,1613.9 1446.8,1614.8 1449.7,1615.8 1452.6,1616.7 1455.5,1617.7 1458.4,1618.6 1461.3,1619.5 1464.2,1620.4 1467.1,1621.3 1470.0,1622.1 1472.9,1623.0 1475.8,1623.8 1478.7,1624.6 1481.6,1625.4 1484.4,1626.2 1487.3,1627.0 1490.2,1627.8 1493.1,1628.5 1496.0,1629.3 1498.9,1630.0 1501.8,1630.7 1504.7,1631.4 1507.6,1632.1 1510.5,1632.8 1513.4,1633.5 1516.3,1634.2 1519.2,1634.8 1522.0,1635.5 1524.9,1636.1 1527.8,1636.7 1530.7,1637.3 1533.6,1637.9 1536.5,1638.5 1539.4,1639.1 1542.3,1639.7 1545.2,1640.2 1548.1,1640.8 1551.0,1641.3 1553.9,1641.9 1556.8,1642.4 1559.7,1642.9 1562.5,1643.4 1565.4,1643.9 1568.3,1644.4 1571.2,1644.9 1574.1,1645.4 1577.0,1645.9 1579.9,1646.3 1582.8,1646.8 1585.7,1647.2 1588.6,1647.7 1591.5,1648.1 1594.4,1648.5 1597.3,1649.0 1600.2,1649.4 1603.0,1649.8 1605.9,1650.2 1608.8,1650.6 1611.7,1650.9 1614.6,1651.3 1617.5,1651.7 1620.4,1652.1 1623.3,1652.4 1626.2,1652.8 1629.1,1653.1 1632.0,1653.5 1634.9,1653.8 1637.8,1654.1 1640.7,1654.5 1643.5,1654.8 1646.4,1655.1 1649.3,1655.4 1652.2,1655.7 1655.1,1656.0 1658.0,1656.3 1660.9,1656.6 1663.8,1656.9 1666.7,1657.2 1669.6,1657.4 1672.5,1657.7 1675.4,1658.0 1678.3,1658.2 1681.1,1658.5 1684.0,1658.7 1686.9,1659.0 1689.8,1659.2 1692.7,1659.5 1695.6,1659.7 1698.5,1659.9 1701.4,1660.2 1704.3,1660.4 1707.2,1660.6 1710.1,1660.8 1713.0,1661.0 1715.9,1661.3 1718.8,1661.5 1721.6,1661.7 1724.5,1661.9 1727.4,1662.1 1730.3,1662.2 1733.2,1662.4 1736.1,1662.6 1739.0,1662.8 1741.9,1663.0 1744.8,1663.2 1747.7,1663.3 1750.6,1663.5 1753.5,1663.7 1756.4,1663.8 1759.3,1664.0 1762.1,1664.2 1765.0,1664.3 1767.9,1664.5 1770.8,1664.6 1773.7,1664.8 1776.6,1664.9 1779.5,1665.1 1782.4,1665.2 1785.3,1665.4 1788.2,1665.5 1791.1,1665.6 1794.0,1665.8 1796.9,1665.9 1799.7,1666.0 1802.6,1666.1 1805.5,1666.3 1808.4,1666.4 1811.3,1666.5 1814.2,1666.6 1817.1,1666.7 1820.0,1666.9 1822.9,1667.0 1825.8,1667.1 1828.7,1667.2 1831.6,1667.3 1834.5,1667.4 1837.4,1667.5 1840.2,1667.6 1843.1,1667.7 1846.0,1667.8 1848.9,1667.9 1851.8,1668.0 1854.7,1668.1 1857.6,1668.2 1860.5,1668.3 1863.4,1668.3 1866.3,1668.4 1869.2,1668.5 1872.1,1668.6 1875.0,1668.7 1877.9,1668.8 1880.7,1668.8 1883.6,1668.9 1886.5,1669.0 1889.4,1669.1 1892.3,1669.1 1895.2,1669.2 1898.1,1669.3 1901.0,1669.4 1903.9,1669.4 1906.8,1669.5 1909.7,1669.6 1912.6,1669.6 1915.5,1669.7 1918.3,1669.8 1921.2,1669.8 1924.1,1669.9 1927.0,1669.9 1929.9,1670.0 1932.8,1670.1 1935.7,1670.1 1938.6,1670.2 1941.5,1670.2 1944.4,1670.3 1947.3,1670.3 1950.2,1670.4 1953.1,1670.4 1956.0,1670.5 1958.8,1670.5 1961.7,1670.6 1964.6,1670.6 1967.5,1670.7 1970.4,1670.7 1973.3,1670.8 1976.2,1670.8 1979.1,1670.9 1982.0,1670.9 1984.9,1670.9 1987.8,1671.0 1990.7,1671.0 1993.6,1671.1 1996.5,1671.1 1999.3,1671.1 2002.2,1671.2 2005.1,1671.2 2008.0,1671.3 2010.9,1671.3 2013.8,1671.3 2016.7,1671.4 2019.6,1671.4 2022.5,1671.4 2025.4,1671.5 2028.3,1671.5 2031.2,1671.5 2034.1,1671.6 2037.0,1671.6 2039.8,1671.6 2042.7,1671.7 2045.6,1671.7 2048.5,1671.7 2051.4,1671.8 2054.3,1671.8 2057.2,1671.8 2060.1,1671.8 2063.0,1671.9 2065.9,1671.9 2068.8,1671.9 2071.7,1671.9 2074.6,1672.0 2077.4,1672.0 2080.3,1672.0 2083.2,1672.0 2086.1,1672.1 2089.0,1672.1 2091.9,1672.1 2094.8,1672.1 2097.7,1672.1 2100.6,1672.2 2103.5,1672.2 2106.4,1672.2 2109.3,1672.2 2112.2,1672.3 2115.1,1672.3 2117.9,1672.3 2120.8,1672.3 2123.7,1672.3 2126.6,1672.3 2129.5,1672.4 2132.4,1672.4 2135.3,1672.4 2138.2,1672.4 2141.1,1672.4 2144.0,1672.5 2146.9,1672.5 2149.8,1672.5 2152.7,1672.5 2155.6,1672.5 2158.4,1672.5 2161.3,1672.5 2164.2,1672.6 2167.1,1672.6 2170.0,1672.6 2172.9,1672.6 2175.8,1672.6 2178.7,1672.6 2181.6,1672.6 2184.5,1672.7 2187.4,1672.7 2190.3,1672.7 2193.2,1672.7 2196.0,1672.7 2198.9,1672.7 2201.8,1672.7 2204.7,1672.7 2207.6,1672.8 2210.5,1672.8 2213.4,1672.8 2216.3,1672.8 2219.2,1672.8 2222.1,1672.8 2225.0,1672.8 2227.9,1672.8 2230.8,1672.8 2233.7,1672.8 2236.5,1672.9 2239.4,1672.9 2242.3,1672.9 2245.2,1672.9 2248.1,1672.9 2251.0,1672.9 2253.9,1672.9 2256.8,1672.9 2259.7,1672.9 2262.6,1672.9 2265.5,1672.9 2268.4,1672.9 2271.3,1673.0 2274.2,1673.0 2277.0,1673.0 2279.9,1673.0 2282.8,1673.0 2285.7,1673.0 2288.6,1673.0 2291.5,1673.0 2294.4,1673.0 2297.3,1673.0 2300.2,1673.0 2303.1,1673.0 2306.0,1673.0 2308.9,1673.0 2311.8,1673.1 2314.7,1673.1 2317.5,1673.1 2320.4,1673.1 2323.3,1673.1 2326.2,1673.1 2329.1,1673.1 2332.0,1673.1 2334.9,1673.1 2337.8,1673.1 2340.7,1673.1 2343.6,1673.1 2346.5,1673.1 2349.4,1673.1 2352.3,1673.1 2355.1,1673.1 2358.0,1673.1 2360.9,1673.1 2363.8,1673.1 2366.7,1673.1 2369.6,1673.2 2372.5,1673.2 2375.4,1673.2 2378.3,1673.2 2381.2,1673.2 2384.1,1673.2 2387.0,1673.2 2389.9,1673.2 2392.8,1673.2 2395.6,1673.2 2398.5,1673.2 2401.4,1673.2 2404.3,1673.2 2407.2,1673.2 2410.1,1673.2 2413.0,1673.2 2415.9,1673.2 2418.8,1673.2 2421.7,1673.2 2424.6,1673.2 2427.5,1673.2 2430.4,1673.2 2433.3,1673.2 2436.1,1673.2 2439.0,1673.2 2441.9,1673.2 2444.8,1673.2 2447.7,1673.2 2450.6,1673.2 2453.5,1673.3"/>
<polyline points="431.5,71.8 434.4,73.6 437.3,75.4 440.2,77.3 443.1,79.1 446.0,81.1 448.9,83.0 451.7,85.0 454.6,87.0 457.5,89.0 460.4,91.1 463.3,93.1 466.2,95.3 469.1,97.4 472.0,99.6 474.9,101.8 477.8,104.1 480.7,106.4 483.6,108.7 486.5,111.0 489.4,113.4 492.2,115.8 495.1,118.3 498.0,120.7 500.9,123.3 503.8,125.8 506.7,128.4 509.6,131.0 512.5,133.7 515.4,136.4 518.3,139.1 521.2,141.9 524.1,144.7 527.0,147.6 529.9,150.5 532.7,153.4 535.6,156.4 538.5,159.4 541.4,162.4 544.3,165.5 547.2,168.7 550.1,171.8 553.0,175.0 555.9,178.3 558.8,181.6 561.7,184.9 564.6,188.3 567.5,191.8 570.3,195.2 573.2,198.7 576.1,202.3 579.0,205.9 581.9,209.6 584.8,213.2 587.7,217.0 590.6,220.8 593.5,224.6 596.4,228.5 599.3,232.4 602.2,236.4 605.1,240.4 608.0,244.4 610.8,248.6 613.7,252.7 616.6,256.9 619.5,261.2 622.4,265.5 625.3,269.8 628.2,274.2 631.1,278.7 634.0,283.2 636.9,287.7 639.8,292.3 642.7,296.9 645.6,301.6 648.5,306.4 651.3,311.1 654.2,316.0 657.1,320.9 660.0,325.8 662.9,330.8 665.8,335.8 668.7,340.9 671.6,346.0 674.5,351.2 677.4,356.5 680.3,361.7 683.2,367.1 686.1,372.4 689.0,377.9 691.8,383.3 694.7,388.9 697.6,394.4 700.5,400.0 703.4,405.7 706.3,411.4 709.2,417.2 712.1,423.0 715.0,428.8 717.9,434.7 720.8,440.7 723.7,446.7 726.6,452.7 729.4,458.8 732.3,464.9 735.2,471.1 738.1,477.3 741.0,483.5 743.9,489.8 746.8,496.2 749.7,502.5 752.6,508.9 755.5,515.4 758.4,521.9 761.3,528.4 764.2,535.0 767.1,541.6 769.9,548.3 772.8,555.0 775.7,561.7 778.6,568.4 781.5,575.2 784.4,582.0 787.3,588.9 790.2,595.8 793.1,602.7 796.0,609.7 798.9,616.6 801.8,623.6 804.7,630.7 807.6,637.7 810.4,644.8 813.3,651.9 816.2,659.1 819.1,666.2 822.0,673.4 824.9,680.6 827.8,687.8 830.7,695.0 833.6,702.3 836.5,709.6 839.4,716.9 842.3,724.2 845.2,731.5 848.0,738.8 850.9,746.2 853.8,753.5 856.7,760.9 859.6,768.2 862.5,775.6 865.4,783.0 868.3,790.4 871.2,797.8 874.1,805.2 877.0,812.6 879.9,820.0 882.8,827.4 885.7,834.8 888.5,842.2 891.4,849.5 894.3,856.9 897.2,864.3 900.1,871.7 903.0,879.0 905.9,886.4 908.8,893.7 911.7,901.1 914.6,908.4 917.5,915.7 920.4,923.0 923.3,930.3 926.2,937.5 929.0,944.8 931.9,952.0 934.8,959.2 937.7,966.4 940.6,973.6 943.5,980.7 946.4,987.8 949.3,994.9 952.2,1002.0 955.1,1009.0 958.0,1016.0 960.9,1023.0 963.8,1030.0 966.7,1036.9 969.5,1043.8 972.4,1050.7 975.3,1057.5 978.2,1064.3 981.1,1071.1 984.0,1077.8 986.9,1084.5 989.8,1091.2 992.7,1097.8 995.6,1104.4 998.5,1110.9 1001.4,1117.4 1004.3,1123.9 1007.1,1130.3 1010.0,1136.7 1012.9,1143.1 1015.8,1149.4 1018.7,1155.6 1021.6,1161.9 1024.5,1168.0 1027.4,1174.2 1030.3,1180.3 1033.2,1186.3 1036.1,1192.3 1039.0,1198.3 1041.9,1204.2 1044.8,1210.1 1047.6,1215.9 1050.5,1221.7 1053.4,1227.4 1056.3,1233.1 1059.2,1238.7 1062.1,1244.3 1065.0,1249.8 1067.9,1255.3 1070.8,1260.7 1073.7,1266.1 1076.6,1271.5 1079.5,1276.8 1082.4,1282.0 1085.3,1287.2 1088.1,1292.4 1091.0,1297.5 1093.9,1302.5 1096.8,1307.5 1099.7,1312.5 1102.6,1317.4 1105.5,1322.2 1108.4,1327.0 1111.3,1331.8 1114.2,1336.5 1117.1,1341.1 1120.0,1345.7 1122.9,1350.3 1125.7,1354.8 1128.6,1359.3 1131.5,1363.7 1134.4,1368.0 1137.3,1372.4 1140.2,1376.6 1143.1,1380.8 1146.0,1385.0 1148.9,1389.1 1151.8,1393.2 1154.7,1397.3 1157.6,1401.2 1160.5,1405.2 1163.4,1409.1 1166.2,1412.9 1169.1,1416.7 1172.0,1420.5 1174.9,1424.2 1177.8,1427.8 1180.7,1431.4 1183.6,1435.0 1186.5,1438.5 1189.4,1442.0 1192.3,1445.5 1195.2,1448.9 1198.1,1452.2 1201.0,1455.5 1203.9,1458.8 1206.7,1462.0 1209.6,1465.2 1212.5,1468.4 1215.4,1471.5 1218.3,1474.5 1221.2,1477.6 1224.1,1480.5 1227.0,1483.5 1229.9,1486.4 1232.8,1489.3 1235.7,1492.1 1238.6,1494.9 1241.5,1497.6 1244.3,1500.3 1247.2,1503.0 1250.1,1505.6 1253.0,1508.2 1255.9,1510.8 1258.8,1513.3 1261.7,1515.8 1264.6,1518.3 1267.5,1520.7 1270.4,1523.1 1273.3,1525.5 1276.2,1527.8 1279.1,1530.1 1282.0,1532.4 1284.8,1534.6 1287.7,1536.8 1290.6,1538.9 1293.5,1541.1 1296.4,1543.2 1299.3,1545.2 1302.2,1547.3 1305.1,1549.3 1308.0,1551.3 1310.9,1553.2 1313.8,1555.1 1316.7,1557.0 1319.6,1558.9 1322.5,1560.7 1325.3,1562.6 1328.2,1564.3 1331.1,1566.1 1334.0,1567.8 1336.9,1569.5 1339.8,1571.2 1342.7,1572.9 1345.6,1574.5 1348.5,1576.1 1351.4,1577.7 1354.3,1579.2 1357.2,1580.8 1360.1,1582.3 1363.0,1583.8 1365.8,1585.2 1368.7,1586.7 1371.6,1588.1 1374.5,1589.5 1377.4,1590.9 1380.3,1592.2 1383.2,1593.6 1386.1,1594.9 1389.0,1596.2 1391.9,1597.4 1394.8,1598.7 1397.7,1599.9 1400.6,1601.1 1403.4,1602.3 1406.3,1603.5 1409.2,1604.7 1412.1,1605.8 1415.0,1606.9 1417.9,1608.0 1420.8,1609.1 1423.7,1610.2 1426.6,1611.2 1429.5,1612.3 1432.4,1613.3 1435.3,1614.3 1438.2,1615.3 1441.1,1616.2 1443.9,1617.2 1446.8,1618.1 1449.7,1619.0 1452.6,1620.0 1455.5,1620.8 1458.4,1621.7 1461.3,1622.6 1464.2,1623.4 1467.1,1624.3 1470.0,1625.1 1472.9,1625.9 1475.8,1626.7 1478.7,1627.5 1481.6,1628.3 1484.4,1629.0 1487.3,1629.8 1490.2,1630.5 1493.1,1631.2 1496.0,1632.0 1498.9,1632.7 1501.8,1633.3 1504.7,1634.0 1507.6,1634.7 1510.5,1635.3 1513.4,1636.0 1516.3,1636.6 1519.2,1637.3 1522.0,1637.9 1524.9,1638.5 1527.8,1639.1 1530.7,1639.6 1533.6,1640.2 1536.5,1640.8 1539.4,1641.3 1542.3,1641.9 1545.2,1642.4 1548.1,1643.0 1551.0,1643.5 1553.9,1644.0 1556.8,1644.5 1559.7,1645.0 1562.5,1645.5 1565.4,1645.9 1568.3,1646.4 1571.2,1646.9 1574.1,1647.3 1577.0,1647.8 1579.9,1648.2 1582.8,1648.7 1585.7,1649.1 1588.6,1649.5 1591.5,1649.9 1594.4,1650.3 1597.3,1650.7 1600.2,1651.1 1603.0,1651.5 1605.9,1651.9 1608.8,1652.2 1611.7,1652.6 1614.6,1653.0 1617.5,1653.3 1620.4,1653.7 1623.3,1654.0 1626.2,1654.3 1629.1,1654.7 1632.0,1655.0 1634.9,1655.3 1637.8,1655.6 1640.7,1655.9 1643.5,1656.2 1646.4,1656.5 1649.3,1656.8 1652.2,1657.1 1655.1,1657.4 1658.0,1657.7 1660.9,1658.0 1663.8,1658.2 1666.7,1658.5 1669.6,1658.8 1672.5,1659.0 1675.4,1659.3 1678.3,1659.5 1681.1,1659.8 1684.0,1660.0 1686.9,1660.2 1689.8,1660.5 1692.7,1660.7 1695.6,1660.9 1698.5,1661.1 1701.4,1661.4 1704.3,1661.6 1707.2,1661.8 1710.1,1662.0 1713.0,1662.2 1715.9,1662.4 1718.8,1662.6 1721.6,1662.8 1724.5,1663.0 1727.4,1663.1 1730.3,1663.3 1733.2,1663.5 1736.1,1663.7 1739.0,1663.9 1741.9,1664.0 1744.8,1664.2 1747.7,1664.4 1750.6,1664.5 1753.5,1664.7 1756.4,1664.8 1759.3,1665.0 1762.1,1665.1 1765.0,1665.3 1767.9,1665.4 1770.8,1665.6 1773.7,1665.7 1776.6,1665.9 1779.5,1666.0 1782.4,1666.1 1785.3,1666.3 1788.2,1666.4 1791.1,1666.5 1794.0,1666.6 1796.9,1666.8 1799.7,1666.9 1802.6,1667.0 1805.5,1667.1 1808.4,1667.2 1811.3,1667.4 1814.2,1667.5 1817.1,1667.6 1820.0,1667.7 1822.9,1667.8 1825.8,1667.9 1828.7,1668.0 1831.6,1668.1 1834.5,1668.2 1837.4,1668.3 1840.2,1668.4 1843.1,1668.5 1846.0,1668.6 1848.9,1668.7 1851.8,1668.7 1854.7,1668.8 1857.6,1668.9 1860.5,1669.0 1863.4,1669.1 1866.3,1669.2 1869.2,1669.2 1872.1,1669.3 1875.0,1669.4 1877.9,1669.5 1880.7,1669.6 1883.6,1669.6 1886.5,1669.7 1889.4,1669.8 1892.3,1669.8 1895.2,1669.9 1898.1,1670.0 1901.0,1670.0 1903.9,1670.1 1906.8,1670.2 1909.7,1670.2 1912.6,1670.3 1915.5,1670.4 1918.3,1670.4 1921.2,1670.5 1924.1,1670.5 1927.0,1670.6 1929.9,1670.6 1932.8,1670.7 1935.7,1670.8 1938.6,1670.8 1941.5,1670.9 1944.4,1670.9 1947.3,1671.0 1950.2,1671.0 1953.1,1671.1 1956.0,1671.1 1958.8,1671.2 1961.7,1671.2 1964.6,1671.2 1967.5,1671.3 1970.4,1671.3 1973.3,1671.4 1976.2,1671.4 1979.1,1671.5 1982.0,1671.5 1984.9,1671.5 1987.8,1671.6 1990.7,1671.6 1993.6,1671.7 1996.5,1671.7 1999.3,1671.7 2002.2,1671.8 2005.1,1671.8 2008.0,1671.8 2010.9,1671.9 2013.8,1671.9 2016.7,1671.9 2019.6,1672.0 2022.5,1672.0 2025.4,1672.0 2028.3,1672.1 2031.2,1672.1 2034.1,1672.1 2037.0,1672.2 2039.8,1672.2 2042.7,1672.2 2045.6,1672.3 2048.5,1672.3 2051.4,1672.3 2054.3,1672.3 2057.2,1672.4 2060.1,1672.4 2063.0,1672.4 2065.9,1672.4 2068.8,1672.5 2071.7,1672.5 2074.6,1672.5 2077.4,1672.5 2080.3,1672.6 2083.2,1672.6 2086.1,1672.6 2089.0,1672.6 2091.9,1672.6 2094.8,1672.7 2097.7,1672.7 2100.6,1672.7 2103.5,1672.7 2106.4,1672.7 2109.3,1672.8 2112.2,1672.8 2115.1,1672.8 2117.9,1672.8 2120.8,1672.8 2123.7,1672.9 2126.6,1672.9 2129.5,1672.9 2132.4,1672.9 2135.3,1672.9 2138.2,1672.9 2141.1,1672.9 2144.0,1673.0 2146.9,1673.0 2149.8,1673.0 2152.7,1673.0 2155.6,1673.0 2158.4,1673.0 2161.3,1673.1 2164.2,1673.1 2167.1,1673.1 2170.0,1673.1 2172.9,1673.1 2175.8,1673.1 2178.7,1673.1 2181.6,1673.1 2184.5,1673.2 2187.4,1673.2 2190.3,1673.2 2193.2,1673.2 2196.0,1673.2 2198.9,1673.2 2201.8,1673.2 2204.7,1673.2 2207.6,1673.2 2210.5,1673.3 2213.4,1673.3 2216.3,1673.3 2219.2,1673.3 2222.1,1673.3 2225.0,1673.3 2227.9,1673.3 2230.8,1673.3 2233.7,1673.3 2236.5,1673.3 2239.4,1673.4 2242.3,1673.4 2245.2,1673.4 2248.1,1673.4 2251.0,1673.4 2253.9,1673.4 2256.8,1673.4 2259.7,1673.4 2262.6,1673.4 2265.5,1673.4 2268.4,1673.4 2271.3,1673.4 2274.2,1673.4 2277.0,1673.5 2279.9,1673.5 2282.8,1673.5 2285.7,1673.5 2288.6,1673.5 2291.5,1673.5 2294.4,1673.5 2297.3,1673.5 2300.2,1673.5 2303.1,1673.5 2306.0,1673.5 2308.9,1673.5 2311.8,1673.5 2314.7,1673.5 2317.5,1673.5 2320.4,1673.5 2323.3,1673.6 2326.2,1673.6 2329.1,1673.6 2332.0,1673.6 2334.9,1673.6 2337.8,1673.6 2340.7,1673.6 2343.6,1673.6 2346.5,1673.6 2349.4,1673.6 2352.3,1673.6 2355.1,1673.6 2358.0,1673.6 2360.9,1673.6 2363.8,1673.6 2366.7,1673.6 2369.6,1673.6 2372.5,1673.6 2375.4,1673.6 2378.3,1673.6 2381.2,1673.6 2384.1,1673.6 2387.0,1673.7 2389.9,1673.7 2392.8,1673.7 2395.6,1673.7 2398.5,1673.7 2401.4,1673.7 2404.3,1673.7 2407.2,1673.7 2410.1,1673.7 2413.0,1673.7 2415.9,1673.7 2418.8,1673.7 2421.7,1673.7 2424.6,1673.7 2427.5,1673.7 2430.4,1673.7 2433.3,1673.7 2436.1,1673.7 2439.0,1673.7 2441.9,1673.7 2444.8,1673.7 2447.7,1673.7 2450.6,1673.7 2453.5,1673.7"/>
</g>
<g fill="#000" shape-rendering="crispEdges"><rect x="435" y="1571" width="13" height="7"/><rect x="2438" y="1571" width="12" height="7"/><rect x="435" y="1472" width="29" height="7"/><rect x="2421" y="1472" width="29" height="7"/><rect x="435" y="1373" width="13" height="6"/><rect x="2438" y="1373" width="12" height="6"/><rect x="435" y="1274" width="29" height="6"/><rect x="2421" y="1274" width="29" height="6"/><rect x="435" y="1175" width="13" height="6"/><rect x="2438" y="1175" width="12" height="6"/><rect x="435" y="1075" width="29" height="7"/><rect x="2421" y="1075" width="29" height="7"/><rect x="435" y="976" width="13" height="7"/><rect x="2438" y="976" width="12" height="7"/><rect x="435" y="877" width="29" height="7"/><rect x="2421" y="877" width="29" height="7"/><rect x="435" y="778" width="13" height="6"/><rect x="2438" y="778" width="12" height="6"/><rect x="435" y="679" width="29" height="6"/><rect x="2421" y="679" width="29" height="6"/><rect x="435" y="580" width="13" height="6"/><rect x="2438" y="580" width="12" height="6"/><rect x="435" y="480" width="29" height="7"/><rect x="2421" y="480" width="29" height="7"/><rect x="435" y="381" width="13" height="7"/><rect x="2438" y="381" width="12" height="7"/><rect x="435" y="282" width="29" height="7"/><rect x="2421" y="282" width="29" height="7"/><rect x="435" y="183" width="13" height="6"/><rect x="2438" y="183" width="12" height="6"/><rect x="435" y="84" width="29" height="6"/><rect x="2421" y="84" width="29" height="6"/><rect x="460" y="46" width="7" height="12"/><rect x="460" y="1658" width="7" height="12"/><rect x="537" y="46" width="7" height="12"/><rect x="537" y="1658" width="7" height="12"/><rect x="603" y="46" width="6" height="12"/><rect x="603" y="1658" width="6" height="12"/><rect x="659" y="46" width="7" height="12"/><rect x="659" y="1658" width="7" height="12"/><rect x="709" y="46" width="7" height="12"/><rect x="709" y="1658" width="7" height="12"/><rect x="754" y="46" width="6" height="29"/><rect x="754" y="1641" width="6" height="29"/><rect x="1047" y="46" width="7" height="12"/><rect x="1047" y="1658" width="7" height="12"/><rect x="1219" y="46" width="7" height="12"/><rect x="1219" y="1658" width="7" height="12"/><rect x="1341" y="46" width="7" height="12"/><rect x="1341" y="1658" width="7" height="12"/><rect x="1435" y="46" width="7" height="12"/><rect x="1435" y="1658" width="7" height="12"/><rect x="1513" y="46" width="6" height="12"/><rect x="1513" y="1658" width="6" height="12"/><rect x="1578" y="46" width="7" height="12"/><rect x="1578" y="1658" width="7" height="12"/><rect x="1635" y="46" width="6" height="12"/><rect x="1635" y="1658" width="6" height="12"/><rect x="1684" y="46" width="7" height="12"/><rect x="1684" y="1658" width="7" height="12"/><rect x="1729" y="46" width="7" height="29"/><rect x="1729" y="1641" width="7" height="29"/><rect x="2023" y="46" width="6" height="12"/><rect x="2023" y="1658" width="6" height="12"/><rect x="2194" y="46" width="7" height="12"/><rect x="2194" y="1658" width="7" height="12"/><rect x="2316" y="46" width="7" height="12"/><rect x="2316" y="1658" width="7" height="12"/><rect x="2411" y="46" width="6" height="12"/><rect x="2411" y="1658" width="6" height="12"/></g>
<rect x="431.5" y="42.5" width="2022.0" height="1631.0" fill="none" stroke="#000" stroke-width="7"/>
<g clip-path="url(#mc)" shape-rendering="crispEdges">
<g fill="#000000"><rect x="589" y="931" width="36" height="37"/><rect x="646" y="952" width="36" height="36"/><rect x="694" y="975" width="37" height="36"/><rect x="740" y="1000" width="37" height="37"/><rect x="913" y="1149" width="37" height="37"/><rect x="1034" y="1287" width="36" height="36"/><rect x="2182" y="1653" width="36" height="36"/></g>
<g fill="#ff0000"><rect x="589" y="986" width="36" height="36"/><rect x="646" y="1005" width="36" height="36"/><rect x="694" y="1025" width="37" height="36"/><rect x="740" y="1049" width="37" height="36"/><rect x="913" y="1187" width="37" height="36"/></g>
<g fill="#00ff00"><rect x="1034" y="1328" width="36" height="36"/><rect x="1207" y="1486" width="36" height="36"/><rect x="1327" y="1561" width="37" height="36"/></g>
<g fill="#0000ff"><rect x="589" y="1014" width="36" height="36"/><rect x="646" y="1031" width="36" height="36"/><rect x="694" y="1050" width="37" height="36"/><rect x="740" y="1072" width="37" height="36"/><rect x="913" y="1199" width="37" height="36"/><rect x="1034" y="1319" width="36" height="36"/><rect x="1207" y="1482" width="36" height="36"/><rect x="2302" y="1654" width="37" height="36"/><rect x="2396" y="1654" width="37" height="36"/></g>
<g fill="#00ffff"><rect x="589" y="1037" width="36" height="37"/><rect x="646" y="1052" width="36" height="37"/><rect x="694" y="1069" width="37" height="36"/><rect x="740" y="1088" width="37" height="36"/><rect x="913" y="1201" width="37" height="36"/><rect x="1034" y="1314" width="36" height="36"/><rect x="1207" y="1474" width="36" height="36"/></g>
<g fill="#ff00ff"><rect x="589" y="1120" width="36" height="36"/><rect x="646" y="1129" width="36" height="36"/><rect x="694" y="1139" width="37" height="37"/><rect x="740" y="1151" width="37" height="36"/><rect x="913" y="1227" width="37" height="36"/><rect x="1034" y="1313" width="36" height="36"/><rect x="1327" y="1536" width="37" height="36"/></g>
<g fill="#808000"><rect x="589" y="687" width="36" height="37"/><rect x="646" y="711" width="36" height="37"/><rect x="694" y="738" width="37" height="36"/><rect x="740" y="768" width="37" height="36"/><rect x="913" y="969" width="37" height="36"/><rect x="1034" y="1126" width="36" height="36"/><rect x="1207" y="1375" width="36" height="37"/><rect x="1327" y="1498" width="37" height="36"/><rect x="1421" y="1560" width="37" height="36"/><rect x="1501" y="1593" width="36" height="36"/><rect x="1565" y="1612" width="36" height="36"/><rect x="1621" y="1624" width="36" height="36"/><rect x="1670" y="1632" width="37" height="36"/><rect x="1715" y="1638" width="37" height="36"/><rect x="2009" y="1652" width="36" height="36"/><rect x="2182" y="1654" width="36" height="36"/><rect x="2302" y="1654" width="37" height="36"/><rect x="2396" y="1654" width="37" height="36"/></g>
<g fill="#008000"><rect x="589" y="630" width="36" height="36"/><rect x="646" y="668" width="36" height="36"/><rect x="694" y="709" width="37" height="37"/><rect x="740" y="756" width="37" height="36"/><rect x="913" y="1003" width="37" height="36"/><rect x="1034" y="1205" width="36" height="36"/><rect x="1207" y="1441" width="36" height="36"/><rect x="1327" y="1541" width="37" height="36"/><rect x="1421" y="1587" width="37" height="36"/><rect x="1501" y="1612" width="36" height="36"/><rect x="1565" y="1626" width="36" height="36"/><rect x="1621" y="1634" width="36" height="36"/><rect x="1670" y="1639" width="37" height="36"/><rect x="1715" y="1643" width="37" height="36"/><rect x="2009" y="1652" width="36" height="36"/><rect x="2182" y="1654" width="36" height="36"/><rect x="2302" y="1654" width="37" height="36"/><rect x="2396" y="1654" width="37" height="36"/></g>
<g fill="#ff8000"><rect x="589" y="434" width="36" height="36"/><rect x="646" y="495" width="36" height="36"/><rect x="694" y="560" width="37" height="37"/><rect x="740" y="632" width="37" height="36"/><rect x="913" y="972" width="37" height="36"/><rect x="1034" y="1214" width="36" height="36"/><rect x="1207" y="1459" width="36" height="36"/><rect x="1327" y="1553" width="37" height="36"/><rect x="1421" y="1595" width="37" height="36"/><rect x="1501" y="1617" width="36" height="36"/><rect x="1565" y="1629" width="36" height="36"/><rect x="1621" y="1636" width="36" height="36"/><rect x="1670" y="1641" width="37" height="36"/><rect x="1715" y="1644" width="37" height="36"/><rect x="2009" y="1653" width="36" height="36"/><rect x="2182" y="1654" width="36" height="36"/><rect x="2302" y="1654" width="37" height="36"/><rect x="2396" y="1654" width="37" height="36"/></g>
<g fill="#9400ff"><rect x="589" y="225" width="36" height="36"/><rect x="646" y="313" width="36" height="37"/><rect x="694" y="405" width="37" height="37"/><rect x="740" y="502" width="37" height="36"/><rect x="913" y="933" width="37" height="37"/><rect x="1034" y="1208" width="36" height="36"/><rect x="1207" y="1465" width="36" height="37"/><rect x="1327" y="1557" width="37" height="37"/><rect x="1421" y="1598" width="37" height="37"/><rect x="1501" y="1619" width="36" height="37"/><rect x="1565" y="1631" width="36" height="36"/><rect x="1621" y="1638" width="36" height="36"/><rect x="1670" y="1642" width="37" height="36"/><rect x="1715" y="1645" width="37" height="36"/><rect x="2009" y="1652" width="36" height="36"/><rect x="2182" y="1655" width="36" height="36"/><rect x="2302" y="1655" width="37" height="36"/><rect x="2396" y="1655" width="37" height="36"/></g>
</g>
<text x="396.5" y="113.1" text-anchor="end" font-size="70" class="t">4.0<tspan font-size="61.6" dx="2.4" dy="-2">×</tspan><tspan dx="2.4" dy="2">10</tspan><tspan dy="-29" font-size="46">-13</tspan></text>
<text x="396.5" y="311.4" text-anchor="end" font-size="70" class="t">3.5<tspan font-size="61.6" dx="2.4" dy="-2">×</tspan><tspan dx="2.4" dy="2">10</tspan><tspan dy="-29" font-size="46">-13</tspan></text>
<text x="396.5" y="509.8" text-anchor="end" font-size="70" class="t">3.0<tspan font-size="61.6" dx="2.4" dy="-2">×</tspan><tspan dx="2.4" dy="2">10</tspan><tspan dy="-29" font-size="46">-13</tspan></text>
<text x="396.5" y="708.1" text-anchor="end" font-size="70" class="t">2.5<tspan font-size="61.6" dx="2.4" dy="-2">×</tspan><tspan dx="2.4" dy="2">10</tspan><tspan dy="-29" font-size="46">-13</tspan></text>
<text x="396.5" y="906.5" text-anchor="end" font-size="70" class="t">2.0<tspan font-size="61.6" dx="2.4" dy="-2">×</tspan><tspan dx="2.4" dy="2">10</tspan><tspan dy="-29" font-size="46">-13</tspan></text>
<text x="396.5" y="1104.8" text-anchor="end" font-size="70" class="t">1.5<tspan font-size="61.6" dx="2.4" dy="-2">×</tspan><tspan dx="2.4" dy="2">10</tspan><tspan dy="-29" font-size="46">-13</tspan></text>
<text x="396.5" y="1303.1" text-anchor="end" font-size="70" class="t">1.0<tspan font-size="61.6" dx="2.4" dy="-2">×</tspan><tspan dx="2.4" dy="2">10</tspan><tspan dy="-29" font-size="46">-13</tspan></text>
<text x="396.5" y="1501.5" text-anchor="end" font-size="70" class="t">5.0<tspan font-size="61.6" dx="2.4" dy="-2">×</tspan><tspan dx="2.4" dy="2">10</tspan><tspan dy="-29" font-size="46">-14</tspan></text>
<text x="713" y="1773" font-size="70" class="t">10<tspan dy="-29" font-size="46">6</tspan></text>
<text x="1688" y="1773" font-size="70" class="t">10<tspan dy="-29" font-size="46">7</tspan></text>
<text x="1176" y="1897.7" font-size="85" class="t">Frequency [Hz]</text>
<text transform="translate(104.5,1057) rotate(-90)" font-size="85" class="t"><tspan font-style="italic">a</tspan>/<tspan font-style="italic">f</tspan><tspan dx="10" dy="-35" font-size="62">2</tspan><tspan dy="35"> [s</tspan><tspan dy="-35" font-size="62">2</tspan><tspan dy="35">/cm]</tspan></text>
<text x="1167" y="293.4" font-size="53" class="t">0.083</text>
<text x="1167" y="360.1" font-size="53" class="t">0.067</text>
<text x="1167" y="426.8" font-size="53" class="t">0.051</text>
<text x="1167" y="493.5" font-size="53" class="t">0.035</text>
<text x="1384.5" y="389" font-size="54.1" class="t">mole fractions</text>
<line x1="1333.5" y1="488.4" x2="1333.5" y2="290" stroke="#000" stroke-width="3.4"/>
<polygon points="1333.5,252.2 1322,296.6 1345,296.6" fill="#000"/>
<text x="1565.5" y="1005.7" font-size="53.5" class="t">1.8<tspan font-size="47.1" dx="1.8" dy="-1.5">×</tspan><tspan dx="1.8" dy="1.5">10</tspan><tspan dx="1" dy="-23" font-size="38">-7</tspan></text>
<text x="1565.5" y="1080.3" font-size="53.5" class="t">1.8<tspan font-size="47.1" dx="1.8" dy="-1.5">×</tspan><tspan dx="1.8" dy="1.5">10</tspan><tspan dx="1" dy="-23" font-size="38">-6</tspan></text>
<text x="1565.5" y="1154.9" font-size="53.5" class="t">1.8<tspan font-size="47.1" dx="1.8" dy="-1.5">×</tspan><tspan dx="1.8" dy="1.5">10</tspan><tspan dx="1" dy="-23" font-size="38">-5</tspan></text>
<text x="1565.5" y="1229.5" font-size="53.5" class="t">1.8<tspan font-size="47.1" dx="1.8" dy="-1.5">×</tspan><tspan dx="1.8" dy="1.5">10</tspan><tspan dx="1" dy="-23" font-size="38">-4</tspan></text>
<text x="1565.5" y="1304.1" font-size="53.5" class="t">1.8<tspan font-size="47.1" dx="1.8" dy="-1.5">×</tspan><tspan dx="1.8" dy="1.5">10</tspan><tspan dx="1" dy="-23" font-size="38">-3</tspan></text>
<text x="1565.5" y="1378.7" font-size="53.5" class="t">1.8<tspan font-size="47.1" dx="1.8" dy="-1.5">×</tspan><tspan dx="1.8" dy="1.5">10</tspan><tspan dx="1" dy="-23" font-size="38">-2</tspan></text>
<text x="1844.5" y="1182.2" font-size="54.1" class="t">mole fractions</text>
<line x1="1811.9" y1="962.1" x2="1811.9" y2="1345" stroke="#000" stroke-width="3.4"/>
<polygon points="1811.9,1385.6 1800.9,1340 1822.9,1340" fill="#000"/>
</svg></body></html>
